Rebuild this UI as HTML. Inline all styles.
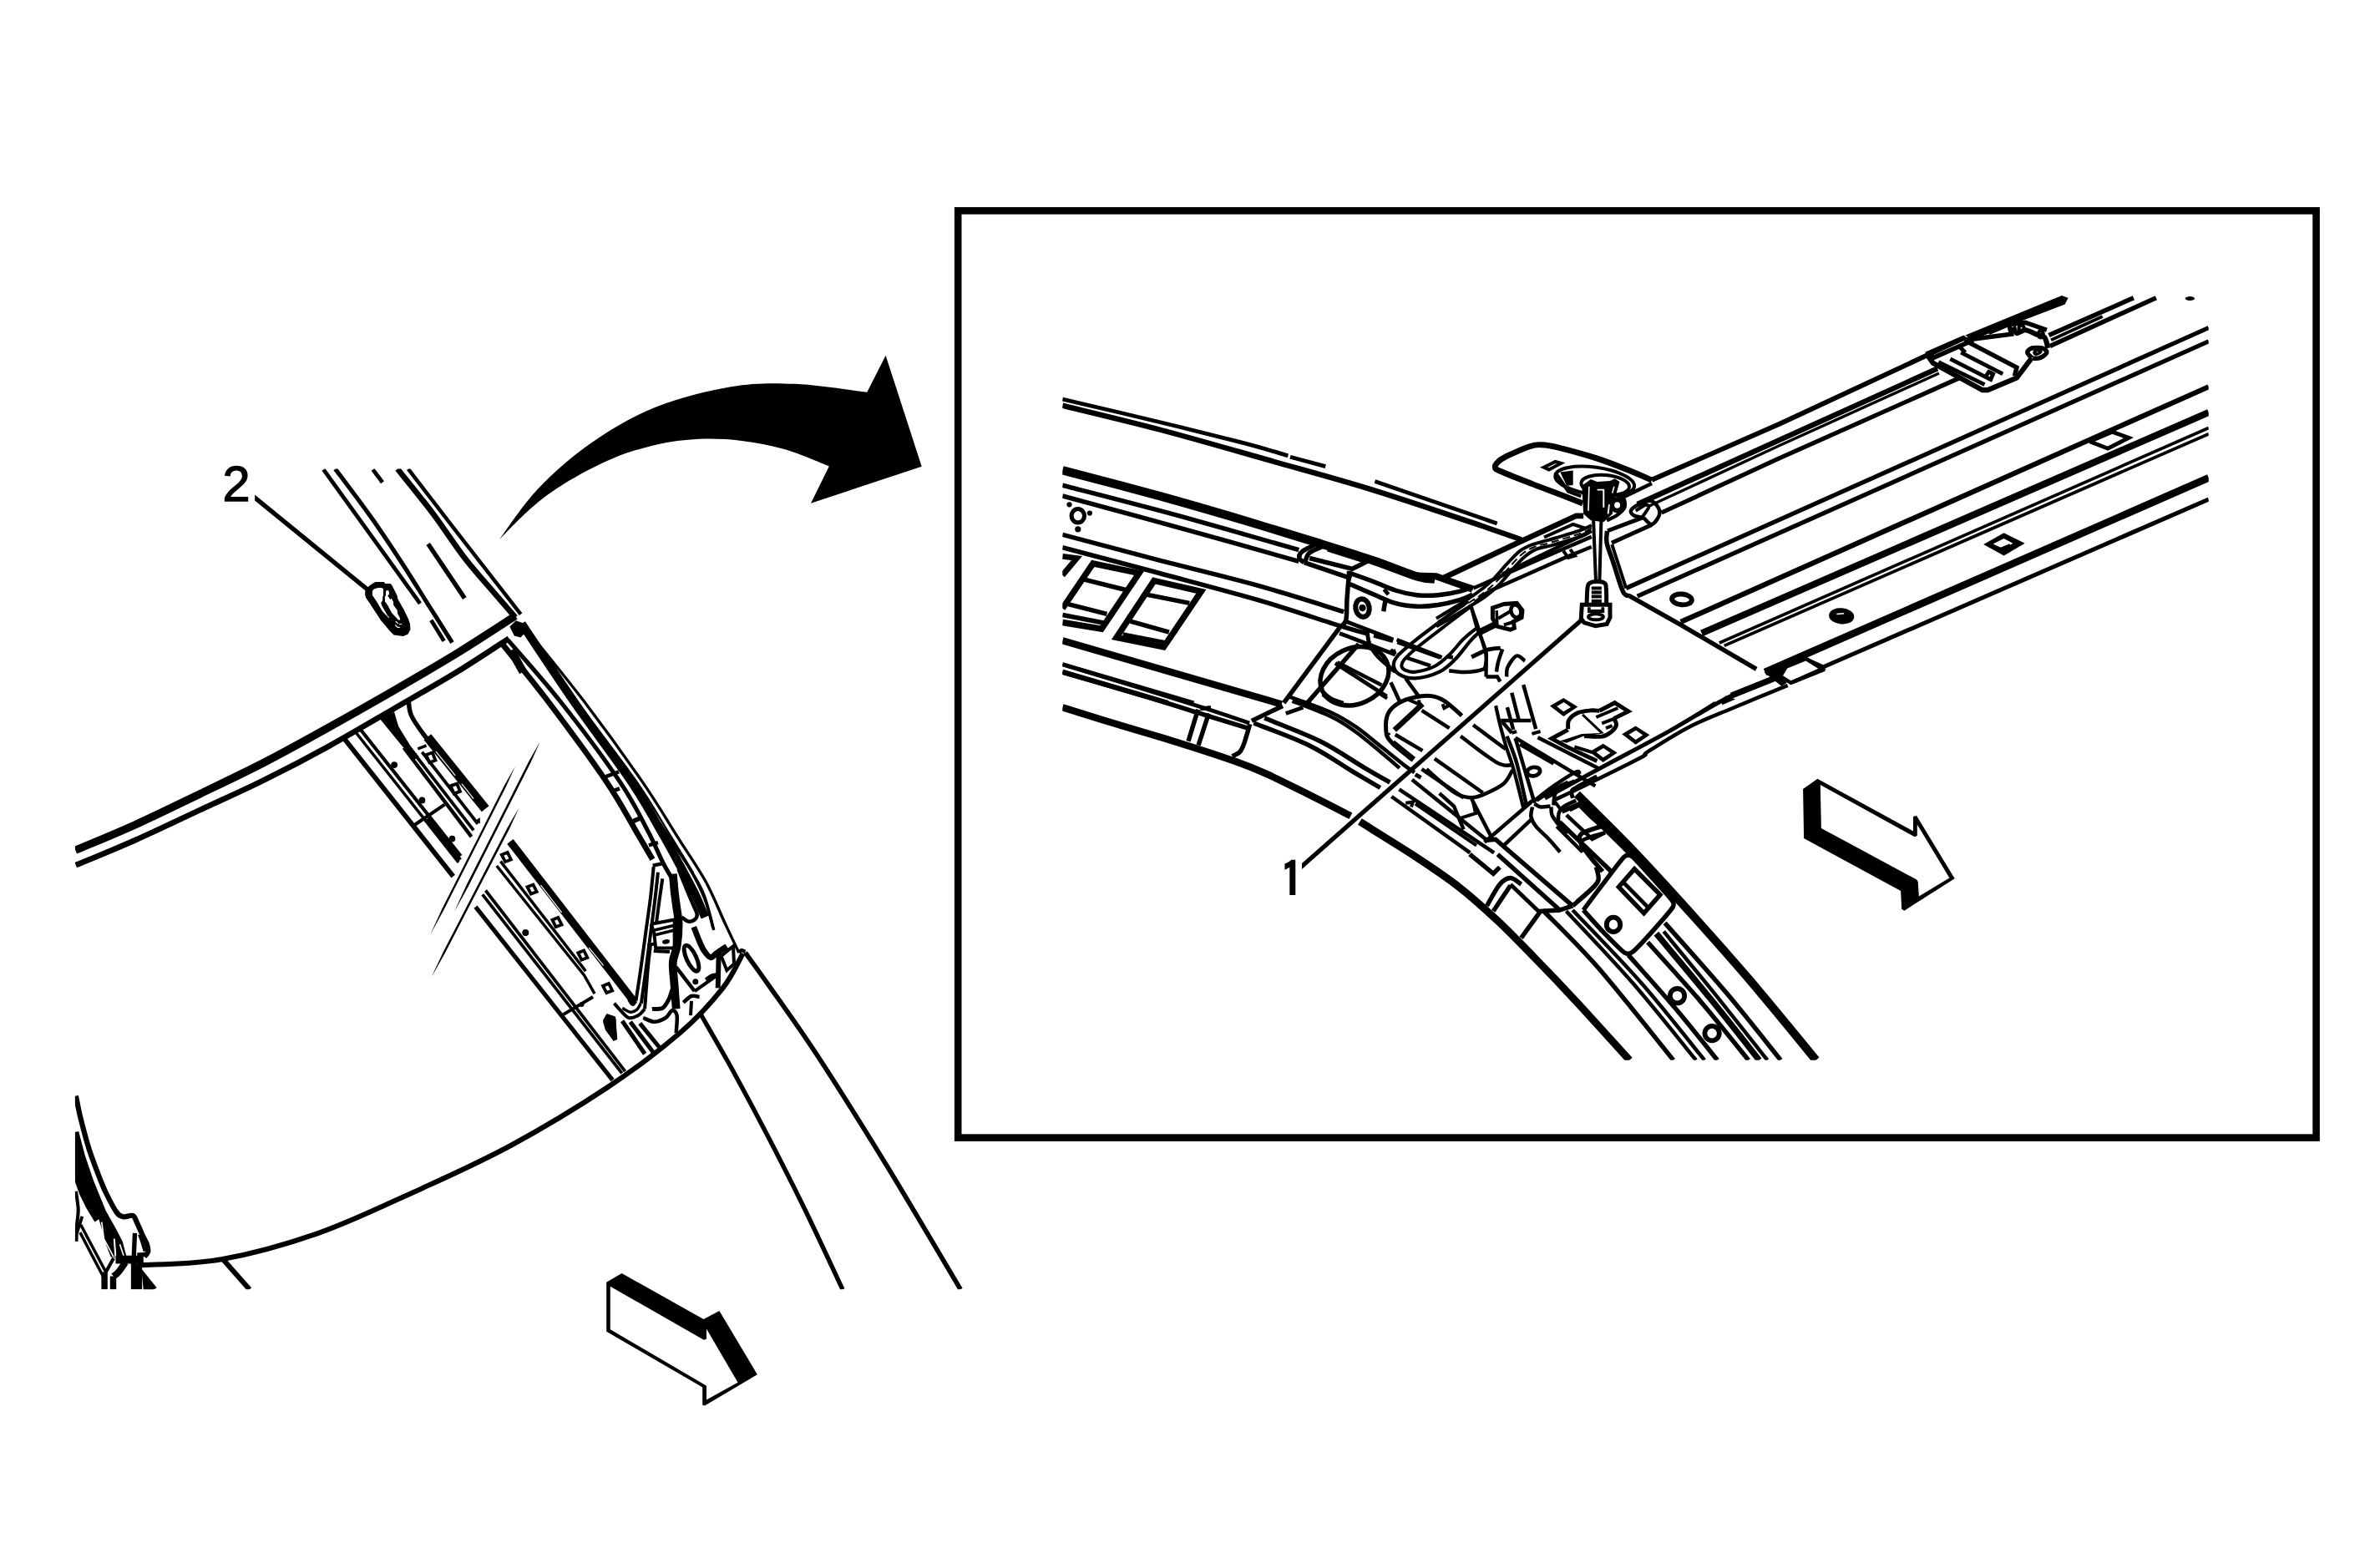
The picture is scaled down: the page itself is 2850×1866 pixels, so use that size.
<!DOCTYPE html>
<html><head><meta charset="utf-8"><title>Roof antenna</title>
<style>
html,body{margin:0;padding:0;background:#fff;}
body{width:2850px;height:1866px;overflow:hidden;font-family:"Liberation Sans",sans-serif;}
svg{display:block;position:absolute;left:0;top:0;}
svg text{font-family:"Liberation Sans",sans-serif;fill:#000;}
</style></head><body>
<svg xmlns="http://www.w3.org/2000/svg" width="2850" height="1866" viewBox="0 0 2850 1866">
<rect x="0" y="0" width="2850" height="1866" fill="#fff"/>
<defs><clipPath id="cl"><rect x="89.9" y="561.5" width="1100" height="982.8"/></clipPath><clipPath id="cr"><rect x="1272.3" y="260" width="1372.5" height="1009.7"/></clipPath></defs>
<!-- 00_frame.py -->
<rect x="1147.2" y="252.4" width="1626.4" height="1110.2" fill="none" stroke="#000" stroke-width="8.6"/>
<path d="M598.0 646.0 C605.7 635.9 625.8 604.7 644.2 585.4 C662.6 566.1 684.8 546.5 708.4 530.2 C731.9 513.9 757.6 498.7 785.4 487.5 C813.2 476.4 847.4 467.8 875.3 463.2 C903.1 458.5 925.1 458.7 952.3 459.8 C979.4 460.9 1023.9 468.2 1038.3 469.8 L1060.6 425.7 L1103.7 558.7 L971.0 602.8 L992.8 558.4 L992.8 558.4 C983.9 555.0 956.9 543.2 939.4 538.1 C922.0 533.0 905.2 529.9 888.1 527.9 C871.0 525.8 853.9 525.0 836.7 525.8 C819.6 526.6 802.5 528.9 785.4 532.7 C768.3 536.6 751.2 541.8 734.0 548.9 C716.9 556.0 698.5 565.6 682.7 575.1 C666.9 584.6 653.2 594.1 639.1 605.9 C624.9 617.7 604.8 639.3 598.0 646.0 Z" fill="#000"/>
<path d="M726.2 1535.7 L744.6 1525.1 L842.5 1580.0 L861.4 1570.1 L906.9 1646.3 L844.0 1683.6 L841.2 1682.7 L841.2 1661.5 L726.2 1594.7 Z" fill="#000"/>
<path d="M730.8 1540.8 L842.8 1604.7 L846.0 1603.7 L846.0 1591.5 L883.5 1655.7 L846.0 1676.5 L846.0 1659.8 L730.8 1592.3 Z" fill="#fff"/>
<path d="M2159.1 945.0 L2176.4 932.8 L2291.0 995.5 L2291.0 978.0 L2295.1 977.1 L2340.7 1052.2 L2280.4 1090.7 L2277.2 1088.8 L2276.1 1067.0 L2160.1 1004.1 Z" fill="#000"/>
<path d="M2179.8 939.9 L2292.6 1002.2 L2295.8 1000.9 L2295.8 987.4 L2334.4 1051.5 L2297.9 1073.5 L2296.7 1056.1 L2295.1 1053.5 L2180.9 991.9 Z" fill="#fff"/>
<text x="266.6" y="599.9" font-size="59.5" stroke="#000" stroke-width="1.3">2</text>
<text x="1532.9" y="1074.3" font-size="56" style="font-family:IPAGothic,'Liberation Sans',sans-serif" stroke="#000" stroke-width="2.4" stroke-linejoin="miter">1</text>
<g clip-path="url(#cl)">
<!-- 10_left_roof.py -->
<path d="M305.1 592.6 L305.1 599.4 L438.5 708.2 L441.8 704 Z" fill="#000"/>
<path d="M387.4 562.4 L503.0 722.8" fill="none" stroke="#000" stroke-width="4.81" stroke-linecap="butt" stroke-linejoin="miter"/>
<path d="M401.5 561.6 C408.6 571.1 430.6 600.1 443.9 618.8 C457.2 637.6 469.8 656.7 481.1 674.0 C492.5 691.4 501.9 706.9 511.9 722.8 C522.0 738.7 536.5 761.8 541.5 769.6" fill="none" stroke="#000" stroke-width="5.13" stroke-linecap="butt" stroke-linejoin="round"/>
<path d="M446.5 562.4 L458.0 577.8" fill="none" stroke="#000" stroke-width="4.81" stroke-linecap="butt" stroke-linejoin="miter"/>
<path d="M476.0 561.6 C483.1 570.5 504.9 597.1 518.4 615.0 C531.8 632.9 544.5 652.9 556.9 668.9 C569.3 685.0 582.8 699.5 592.8 711.3 C602.9 723.0 613.1 734.8 617.2 739.5" fill="none" stroke="#000" stroke-width="6.73" stroke-linecap="butt" stroke-linejoin="round"/>
<path d="M488.8 561.6 C496.3 571.3 520.3 602.7 533.8 620.1 C547.2 637.6 554.7 647.1 569.7 666.3 C584.7 685.6 614.6 724.1 623.6 735.7" fill="none" stroke="#000" stroke-width="4.49" stroke-linecap="butt" stroke-linejoin="round"/>
<path d="M512.7 651.5 L556.4 716.4" fill="none" stroke="#000" stroke-width="5.45" stroke-linecap="butt" stroke-linejoin="miter"/>
<path d="M516.3 742.8 L531.7 767.8" fill="none" stroke="#000" stroke-width="4.81" stroke-linecap="butt" stroke-linejoin="miter"/>
<path d="M90.3 1018.3 C102.4 1013.1 137.8 998.7 162.7 987.4 C187.6 976.2 214.0 963.1 239.7 950.7 C265.4 938.3 291.1 926.3 316.7 913.0 C342.4 899.7 368.1 885.4 393.8 871.1 C419.4 856.9 445.1 842.3 470.8 827.5 C496.5 812.6 523.4 797.0 547.8 782.1 C572.2 767.1 605.6 745.0 617.1 737.6" fill="none" stroke="#000" stroke-width="9.30" stroke-linecap="butt" stroke-linejoin="round"/>
<path d="M90.8 1036.2 C102.8 1031.2 137.9 1017.0 162.7 1005.9 C187.5 994.9 214.0 982.0 239.7 970.0 C265.4 958.0 291.1 946.8 316.7 934.0 C342.4 921.3 368.1 907.9 393.8 893.7 C419.4 879.6 445.1 864.2 470.8 849.3 C496.5 834.4 524.7 818.5 547.8 804.4 C570.9 790.3 599.2 771.2 609.4 764.6" fill="none" stroke="#000" stroke-width="6.73" stroke-linecap="butt" stroke-linejoin="round"/>
<path d="M646.7 888.3 L633.2 912.1 L558.2 1060.8 L544.0 1091.9 L560.6 1061.9 L635.5 913.3 Z" fill="#000"/>
<path d="M617.1 917.4 L603.8 941.1 L529.4 1088.6 L515.2 1119.4 L531.6 1089.6 L605.9 942.2 Z" fill="#000"/>
<path d="M621.5 967.4 L607.7 991.2 L531.1 1139.4 L516.5 1170.5 L533.4 1140.6 L610.1 992.4 Z" fill="#000"/>
<!-- 11_left_pillar_top.py -->
<path d="M610.4 750.4 L617.8 743.3 L626.4 746.2 L631.2 754.9 L623.5 763.5 L615.8 761.6 Z" fill="#000"/>
<path d="M601.4 771.2 C610.5 782.7 635.6 812.6 656.3 840.0 C677.0 867.4 708.2 909.7 725.6 935.3 C743.0 960.9 751.3 978.0 760.6 993.7 C769.9 1009.4 777.9 1023.4 781.4 1029.3" fill="none" stroke="#000" stroke-width="6.72" stroke-linecap="butt" stroke-linejoin="round"/>
<path d="M608.1 766.4 C618.6 778.7 648.6 811.8 670.9 840.0 C693.2 868.2 724.5 910.0 742.0 935.9 C759.5 961.8 767.3 979.2 776.0 995.6 C784.7 1012.0 788.7 1023.3 794.3 1034.1 C799.9 1044.8 807.1 1055.8 809.7 1060.1" fill="none" stroke="#000" stroke-width="5.15" stroke-linecap="butt" stroke-linejoin="round"/>
<path d="M624.7 747.0 C635.1 762.5 665.2 808.4 687.1 840.0 C709.0 871.6 738.7 910.4 756.4 936.8 C774.1 963.2 783.6 981.8 793.3 998.5 C803.0 1015.2 808.1 1025.1 814.5 1037.0 C820.9 1048.9 826.8 1059.5 831.8 1069.8 C836.8 1080.1 842.2 1093.8 844.3 1098.6" fill="none" stroke="#000" stroke-width="10.08" stroke-linecap="butt" stroke-linejoin="round"/>
<path d="M632.2 755.8 C643.4 769.8 676.6 810.0 699.4 840.0 C722.2 870.0 750.0 908.5 768.9 935.9 C787.8 963.3 799.9 984.2 812.6 1004.3 C825.3 1024.4 836.0 1039.3 845.3 1056.3 C854.6 1073.3 861.8 1092.2 868.4 1106.3 C875.0 1120.4 882.1 1135.2 884.8 1141.0" fill="none" stroke="#000" stroke-width="3.36" stroke-linecap="butt" stroke-linejoin="round"/>
<path d="M612.0 778.9 L626.4 804.9" fill="none" stroke="#000" stroke-width="9.78" stroke-linecap="butt" stroke-linejoin="miter"/>
<path d="M693.0 843.5 C704.6 859.0 744.2 910.2 762.5 936.5 C780.8 962.8 791.8 982.9 803.0 1001.0 C814.2 1019.1 825.5 1037.7 830.0 1045.0" fill="none" stroke="#000" stroke-width="2.30" stroke-linecap="butt" stroke-linejoin="round"/>
<path d="M725.6 930.1 L741.0 924.3" fill="none" stroke="#000" stroke-width="4.49" stroke-linecap="butt" stroke-linejoin="miter"/>
<path d="M733.3 947.4 L742.0 944.5" fill="none" stroke="#000" stroke-width="4.49" stroke-linecap="butt" stroke-linejoin="miter"/>
<path d="M758.3 983.1 L768.9 978.2" fill="none" stroke="#000" stroke-width="4.49" stroke-linecap="butt" stroke-linejoin="miter"/>
<!-- 12_left_farpillar.py -->
<path d="M411.7 884.0 L542.7 1049.6" fill="none" stroke="#000" stroke-width="5.77" stroke-linecap="butt" stroke-linejoin="miter"/>
<path d="M425.9 877.0 L549.1 1032.9" fill="none" stroke="#000" stroke-width="3.53" stroke-linecap="butt" stroke-linejoin="miter"/>
<path d="M432.3 874.5 L551.7 1025.2" fill="none" stroke="#000" stroke-width="4.17" stroke-linecap="butt" stroke-linejoin="miter"/>
<path d="M496.5 988.0 L532.4 963.6" fill="none" stroke="#000" stroke-width="4.17" stroke-linecap="butt" stroke-linejoin="miter"/>
<path d="M454.1 860.1 L472.1 852.7 L477.2 869.9 L491.3 893.0 L501.6 906.3 L496.5 909.7 L481.1 893.0 Z" fill="#000"/>
<path d="M483.6 895.5 L564.5 1002.1" fill="none" stroke="#000" stroke-width="4.49" stroke-linecap="butt" stroke-linejoin="miter"/>
<path d="M496.5 903.2 L567.1 994.4" fill="none" stroke="#000" stroke-width="3.85" stroke-linecap="butt" stroke-linejoin="miter"/>
<path d="M511.9 980.3 L550.4 1030.3" fill="none" stroke="#000" stroke-width="6.09" stroke-linecap="butt" stroke-linejoin="miter"/>
<path d="M505.4 900.7 L572.2 986.7" fill="none" stroke="#000" stroke-width="3.85" stroke-linecap="butt" stroke-linejoin="miter"/>
<path d="M489.3 840.3 C489.8 843.1 489.7 850.6 492.6 857.0 C495.5 863.4 501.8 872.2 506.7 878.8 C511.6 885.5 519.6 893.8 522.1 896.8" fill="none" stroke="#000" stroke-width="5.45" stroke-linecap="butt" stroke-linejoin="round"/>
<path d="M511.9 882.7 L581.2 968.7" fill="none" stroke="#000" stroke-width="11.23" stroke-linecap="butt" stroke-linejoin="miter"/>
<path d="M522.1 900.2 L545.2 928.9" fill="none" stroke="#fff" stroke-width="1.20" stroke-linecap="butt" stroke-linejoin="miter"/>
<path d="M552.9 938.7 L567.1 956.6" fill="none" stroke="#fff" stroke-width="1.20" stroke-linecap="butt" stroke-linejoin="miter"/>
<path d="M500.3 896.8 L510.6 893.0" fill="none" stroke="#000" stroke-width="3.53" stroke-linecap="butt" stroke-linejoin="miter"/>
<circle cx="472.1" cy="916.1" r="3.9" fill="#000"/>
<circle cx="505.4" cy="958.4" r="3.9" fill="#000"/>
<circle cx="541.4" cy="1004.6" r="3.9" fill="#000"/>
<circle cx="629.4" cy="1117.1" r="3.9" fill="#000"/>
<path d="M510.1 904.0 L517.8 901.4 L521.4 910.7 L514.2 913.2 Z" fill="none" stroke="#000" stroke-width="3.85" stroke-linecap="butt" stroke-linejoin="miter"/>
<path d="M539.6 941.2 L547.3 938.7 L550.9 947.9 L543.7 950.5 Z" fill="none" stroke="#000" stroke-width="3.85" stroke-linecap="butt" stroke-linejoin="miter"/>
<path d="M569.6 982.8 L574.8 979.0 L574.8 986.7 Z" fill="#000"/>
<path d="M569.5 1086.1 L733.6 1293.7" fill="none" stroke="#000" stroke-width="5.21" stroke-linecap="butt" stroke-linejoin="miter"/>
<path d="M577.8 1071.3 L744.8 1285.4" fill="none" stroke="#000" stroke-width="3.77" stroke-linecap="butt" stroke-linejoin="miter"/>
<path d="M581.5 1066.5 L748.6 1283.1" fill="none" stroke="#000" stroke-width="3.77" stroke-linecap="butt" stroke-linejoin="miter"/>
<path d="M594.8 1037.0 L699.5 1168.0 L712.0 1190.1" fill="none" stroke="#000" stroke-width="3.53" stroke-linecap="butt" stroke-linejoin="miter"/>
<path d="M599.4 1031.6 L701.4 1163.1" fill="none" stroke="#000" stroke-width="3.53" stroke-linecap="butt" stroke-linejoin="miter"/>
<path d="M610.9 1007.8 L759.2 1199.7" fill="none" stroke="#000" stroke-width="9.30" stroke-linecap="butt" stroke-linejoin="miter"/>
<path d="M647.5 1060.1 L672.6 1092.9" fill="none" stroke="#fff" stroke-width="1.20" stroke-linecap="butt" stroke-linejoin="miter"/>
<path d="M705.3 1135.2 L722.6 1156.4" fill="none" stroke="#fff" stroke-width="1.20" stroke-linecap="butt" stroke-linejoin="miter"/>
<path d="M674.5 1215.1 L710.1 1194.0" fill="none" stroke="#000" stroke-width="4.01" stroke-linecap="butt" stroke-linejoin="miter"/>
<circle cx="629.2" cy="1116.9" r="3.7" fill="#000"/>
<circle cx="696.6" cy="1203.0" r="2.9" fill="#000"/>
<path d="M600.7 1023.7 L607.7 1021.0 L611.9 1029.5 L605.0 1032.2 Z" fill="none" stroke="#000" stroke-width="3.77" stroke-linecap="butt" stroke-linejoin="miter"/>
<path d="M631.5 1062.2 L638.5 1059.6 L642.7 1068.0 L635.8 1070.7 Z" fill="none" stroke="#000" stroke-width="3.77" stroke-linecap="butt" stroke-linejoin="miter"/>
<path d="M661.4 1101.7 L668.3 1099.0 L672.6 1107.5 L665.6 1110.2 Z" fill="none" stroke="#000" stroke-width="3.77" stroke-linecap="butt" stroke-linejoin="miter"/>
<path d="M692.2 1141.2 L699.1 1138.5 L703.4 1147.0 L696.4 1149.7 Z" fill="none" stroke="#000" stroke-width="3.77" stroke-linecap="butt" stroke-linejoin="miter"/>
<path d="M722.0 1180.7 L729.0 1178.0 L733.2 1186.4 L726.3 1189.1 Z" fill="none" stroke="#000" stroke-width="3.77" stroke-linecap="butt" stroke-linejoin="miter"/>
<!-- 13_left_pillar_low.py -->
<path d="M789.4 985.0 C793.9 991.8 807.7 1011.7 816.4 1025.5 C825.1 1039.3 835.0 1053.1 841.4 1067.8 C847.9 1082.6 852.7 1106.3 854.9 1114.0" fill="none" stroke="#000" stroke-width="3.28" stroke-linecap="butt" stroke-linejoin="round"/>
<path d="M799.1 998.5 C803.2 1004.9 816.7 1024.2 824.1 1037.0 C831.5 1049.9 838.4 1063.0 843.4 1075.5 C848.3 1088.0 852.2 1106.0 854.0 1112.1" fill="none" stroke="#000" stroke-width="3.28" stroke-linecap="butt" stroke-linejoin="round"/>
<path d="M758.3 984.1 L769.2 979.3" fill="none" stroke="#000" stroke-width="4.49" stroke-linecap="butt" stroke-linejoin="miter"/>
<path d="M776.9 1012.4 L787.9 1009.1" fill="none" stroke="#000" stroke-width="4.49" stroke-linecap="butt" stroke-linejoin="miter"/>
<path d="M781.7 1036.6 L794.3 1034.1" fill="none" stroke="#000" stroke-width="4.49" stroke-linecap="butt" stroke-linejoin="miter"/>
<path d="M782.7 1038.0 C782.1 1044.2 780.5 1062.2 778.9 1075.5 C777.3 1088.9 775.0 1103.8 773.1 1117.9 C771.2 1132.0 769.2 1146.8 767.3 1160.3 C765.4 1173.7 762.5 1192.3 761.5 1198.8" fill="none" stroke="#000" stroke-width="4.01" stroke-linecap="butt" stroke-linejoin="round"/>
<path d="M787.9 1044.7 C787.3 1050.5 785.7 1066.2 784.1 1079.4 C782.5 1092.5 780.1 1109.6 778.3 1123.7 C776.5 1137.8 774.8 1151.1 773.1 1164.1 C771.3 1177.1 768.7 1195.4 767.9 1201.7" fill="none" stroke="#000" stroke-width="4.01" stroke-linecap="butt" stroke-linejoin="round"/>
<path d="M793.3 1052.4 C792.7 1056.9 790.7 1070.6 789.4 1079.4 C788.2 1088.2 786.6 1101.0 786.0 1105.4" fill="none" stroke="#000" stroke-width="4.01" stroke-linecap="butt" stroke-linejoin="round"/>
<path d="M778.9 1132.3 C778.3 1137.3 776.7 1149.5 775.6 1162.2 C774.5 1174.9 772.7 1200.7 772.1 1208.4" fill="none" stroke="#000" stroke-width="4.01" stroke-linecap="butt" stroke-linejoin="round"/>
<path d="M775.6 1132.3 L783.7 1130.4" fill="none" stroke="#000" stroke-width="4.01" stroke-linecap="butt" stroke-linejoin="miter"/>
<path d="M779.8 1106.7 L807.7 1101.5 L807.7 1135.6 L785.2 1135.6 L783.3 1117.9 L779.8 1106.7" fill="none" stroke="#000" stroke-width="4.01" stroke-linecap="butt" stroke-linejoin="miter"/>
<path d="M783.7 1114.0 L807.7 1108.3" fill="none" stroke="#000" stroke-width="3.53" stroke-linecap="butt" stroke-linejoin="miter"/>
<path d="M784.6 1119.8 L807.7 1114.0" fill="none" stroke="#000" stroke-width="3.53" stroke-linecap="butt" stroke-linejoin="miter"/>
<ellipse cx="797.5" cy="1127.9" rx="4.6" ry="2.7" transform="rotate(-10.0 797.5 1127.9)" fill="#000" stroke="#000" stroke-width="0.00"/>
<path d="M782.7 1139.1 L802.0 1140.0" fill="none" stroke="#000" stroke-width="4.01" stroke-linecap="butt" stroke-linejoin="miter"/>
<path d="M805.8 1046.6 C806.1 1050.2 807.1 1061.7 807.7 1067.8 C808.4 1073.9 808.9 1076.8 809.7 1083.2 C810.5 1089.7 812.4 1098.0 812.6 1106.3 C812.7 1114.7 811.8 1125.6 810.6 1133.3 C809.5 1141.0 806.3 1144.5 805.8 1152.6 C805.3 1160.6 807.1 1172.1 807.7 1181.4 C808.4 1190.7 809.3 1203.9 809.7 1208.4" fill="none" stroke="#000" stroke-width="9.78" stroke-linecap="butt" stroke-linejoin="round"/>
<path d="M816.4 1098.6 C817.7 1099.4 821.5 1103.0 824.1 1103.5 C826.7 1103.9 830.0 1103.0 831.8 1101.5 C833.6 1100.1 835.0 1097.8 834.7 1094.8 C834.4 1091.7 832.3 1089.0 829.9 1083.2 C827.5 1077.5 823.1 1067.2 820.3 1060.1 C817.4 1053.1 813.8 1044.1 812.6 1040.9" fill="none" stroke="#000" stroke-width="4.49" stroke-linecap="butt" stroke-linejoin="round"/>
<path d="M830.8 1110.2 C832.0 1113.1 835.5 1122.7 837.6 1127.5 C839.7 1132.3 841.1 1135.9 843.4 1139.1 C845.6 1142.3 848.5 1146.5 851.1 1146.8 C853.6 1147.1 855.6 1143.2 858.8 1141.0 C862.0 1138.8 868.4 1134.6 870.3 1133.3" fill="none" stroke="#000" stroke-width="6.90" stroke-linecap="butt" stroke-linejoin="round"/>
<ellipse cx="828.0" cy="1147.7" rx="5.8" ry="16.9" transform="rotate(-25.0 828.0 1147.7)" fill="none" stroke="#000" stroke-width="4.97"/>
<circle cx="832.8" cy="1175.7" r="3.5" fill="#000"/>
<path d="M809.7 1158.3 L831.8 1187.2" fill="none" stroke="#000" stroke-width="4.49" stroke-linecap="butt" stroke-linejoin="miter"/>
<path d="M845.3 1173.7 C846.6 1172.9 850.4 1169.9 853.0 1168.9 C855.6 1168.0 859.4 1168.1 860.7 1168.0" fill="none" stroke="#000" stroke-width="5.45" stroke-linecap="butt" stroke-linejoin="round"/>
<path d="M860.7 1141.0 L859.7 1183.4" fill="none" stroke="#000" stroke-width="5.93" stroke-linecap="butt" stroke-linejoin="miter"/>
<path d="M863.6 1144.9 L878.0 1133.3 L879.0 1154.5 L870.3 1162.2 L863.6 1144.9" fill="none" stroke="#000" stroke-width="4.01" stroke-linecap="butt" stroke-linejoin="miter"/>
<path d="M780.8 1208.4 C782.9 1208.2 789.9 1209.4 793.3 1207.4 C796.7 1205.5 799.1 1200.5 801.0 1196.8 C802.9 1193.2 804.2 1187.2 804.9 1185.3" fill="none" stroke="#000" stroke-width="4.97" stroke-linecap="butt" stroke-linejoin="round"/>
<path d="M770.2 1219.0 C772.4 1219.8 779.2 1223.8 783.7 1223.8 C788.2 1223.8 793.6 1221.2 797.2 1219.0 C800.7 1216.7 802.6 1210.8 804.9 1210.3 C807.1 1209.8 809.8 1211.6 810.6 1216.1 C811.4 1220.6 809.8 1233.7 809.7 1237.3" fill="none" stroke="#000" stroke-width="4.49" stroke-linecap="butt" stroke-linejoin="round"/>
<path d="M818.3 1200.7 C819.9 1199.4 824.7 1194.1 828.0 1193.0 C831.2 1191.9 836.0 1193.8 837.6 1194.0" fill="none" stroke="#000" stroke-width="4.49" stroke-linecap="butt" stroke-linejoin="round"/>
<path d="M828.0 1198.8 L827.0 1216.1" fill="none" stroke="#000" stroke-width="4.01" stroke-linecap="butt" stroke-linejoin="miter"/>
<path d="M831.8 1187.2 L858.8 1168.0" fill="none" stroke="#000" stroke-width="4.01" stroke-linecap="butt" stroke-linejoin="miter"/>
<path d="M735.5 1201.7 C736.8 1203.1 740.3 1207.4 743.2 1210.3 C746.1 1213.2 749.3 1218.0 752.9 1219.0 C756.4 1219.9 761.2 1217.9 764.4 1216.1 C767.6 1214.3 770.8 1209.7 772.1 1208.4" fill="none" stroke="#000" stroke-width="4.01" stroke-linecap="butt" stroke-linejoin="round"/>
<path d="M752.9 1196.8 C753.7 1197.9 756.2 1202.7 757.7 1203.0 C759.1 1203.3 760.9 1199.5 761.5 1198.8" fill="none" stroke="#000" stroke-width="4.01" stroke-linecap="butt" stroke-linejoin="round"/>
<path d="M745.2 1207.4 C746.8 1208.2 751.9 1211.9 754.8 1212.2 C757.7 1212.6 760.4 1211.1 762.5 1209.4 C764.6 1207.6 766.5 1202.9 767.3 1201.7" fill="none" stroke="#000" stroke-width="3.53" stroke-linecap="butt" stroke-linejoin="round"/>
<path d="M722.1 1223.8 L727.8 1218.0 L737.5 1219.9 L738.4 1245.0 L734.6 1246.9 L724.9 1233.4 Z" fill="#000"/>
<path d="M884.8 1141.0 C885.2 1140.5 886.4 1138.3 887.7 1138.1 C888.9 1138.0 891.7 1139.7 892.5 1140.0" fill="none" stroke="#000" stroke-width="4.49" stroke-linecap="butt" stroke-linejoin="round"/>
<!-- 14_left_bottom.py -->
<path d="M168.5 1515.3 C184.6 1514.1 230.1 1514.6 265.3 1508.3 C300.6 1502.0 341.6 1490.8 380.0 1477.4 C418.4 1464.0 457.0 1445.2 495.5 1427.7 C534.0 1410.2 572.6 1393.0 611.1 1372.2 C649.6 1351.4 692.7 1325.4 726.6 1302.9 C760.5 1280.4 791.3 1256.8 814.4 1237.0 C837.5 1217.2 852.7 1199.7 865.2 1183.9 C877.7 1168.1 885.5 1149.0 889.6 1142.0" fill="none" stroke="#000" stroke-width="6.10" stroke-linecap="butt" stroke-linejoin="round"/>
<path d="M892.5 1141.0 C897.1 1147.4 905.7 1158.9 920.0 1179.3 C934.3 1199.7 954.9 1227.7 978.2 1263.3 C1001.5 1298.9 1031.3 1346.2 1060.0 1393.0 C1088.7 1439.8 1135.2 1519.1 1150.2 1544.3" fill="none" stroke="#000" stroke-width="5.60" stroke-linecap="butt" stroke-linejoin="round"/>
<path d="M838.7 1214.0 C845.2 1225.5 864.5 1258.4 878.0 1283.0 C891.5 1307.6 905.5 1333.8 920.0 1361.8 C934.5 1389.8 950.2 1420.6 965.0 1451.0 C979.8 1481.4 1001.7 1528.8 1009.0 1544.3" fill="none" stroke="#000" stroke-width="5.35" stroke-linecap="butt" stroke-linejoin="round"/>
<path d="M267.0 1508.3 L298.8 1544.3" fill="none" stroke="#000" stroke-width="6.10" stroke-linecap="butt" stroke-linejoin="miter"/>
<path d="M745.1 1222.7 L772.1 1262.2" fill="none" stroke="#000" stroke-width="5.07" stroke-linecap="butt" stroke-linejoin="miter"/>
<path d="M754.8 1223.9 L783.7 1262.2" fill="none" stroke="#000" stroke-width="5.07" stroke-linecap="butt" stroke-linejoin="miter"/>
<path d="M766.3 1225.7 L791.3 1256.5" fill="none" stroke="#000" stroke-width="5.07" stroke-linecap="butt" stroke-linejoin="miter"/>
<path d="M722.0 1222.0 L726.6 1213.9 L737.0 1217.4 L739.3 1245.1 L734.7 1246.3 L725.4 1232.4 Z" fill="#000"/>
<path d="M90.9 1312.5 C91.9 1317.1 94.1 1329.4 96.7 1340.1 C99.4 1350.8 103.1 1365.4 106.8 1376.8 C110.4 1388.2 115.1 1399.9 118.4 1408.5 C121.8 1417.1 123.2 1421.1 126.8 1428.5 C130.4 1435.9 136.5 1447.9 140.1 1452.7 C143.7 1457.5 145.3 1456.8 148.5 1457.4 C151.7 1457.9 156.7 1454.7 159.3 1456.0 C162.0 1457.4 162.2 1460.9 164.3 1465.2 C166.4 1469.5 169.9 1477.7 171.8 1481.9 C173.8 1486.1 175.1 1487.3 176.0 1490.3 C176.9 1493.2 177.7 1496.9 177.2 1499.4 C176.6 1501.9 173.4 1504.3 172.7 1505.3" fill="none" stroke="#000" stroke-width="6.19" stroke-linecap="butt" stroke-linejoin="round"/>
<path d="M89.2 1355.9 L94.2 1355.1 L101.7 1383.5 L111.8 1413.5 L126.8 1450.2 L138.5 1471.1 L146.8 1486.9 L151.5 1505.3 L138.5 1506.9 L132.6 1505.3 L126.8 1490.3 L123.4 1476.9 L118.4 1460.2 L113.4 1463.6 L103.4 1446.9 L95.1 1430.2 L89.2 1413.5 Z" fill="#000"/>
<path d="M90.9 1426.8 C91.4 1430.5 93.5 1441.9 93.7 1448.5 C93.9 1455.2 92.5 1460.5 92.1 1466.9 C91.7 1473.3 91.5 1483.6 91.4 1486.9" fill="none" stroke="#000" stroke-width="4.10" stroke-linecap="butt" stroke-linejoin="round"/>
<path d="M98.4 1456.9 L92.1 1476.9" fill="none" stroke="#000" stroke-width="3.69" stroke-linecap="butt" stroke-linejoin="miter"/>
<path d="M118.4 1408.5 L126.8 1428.5 L123.4 1427.7 L117.6 1414.3 Z" fill="#000"/>
<path d="M121.8 1463.6 L124.3 1483.6 L136.0 1505.3" fill="none" stroke="#fff" stroke-width="1.67" stroke-linecap="butt" stroke-linejoin="miter"/>
<path d="M96.7 1466.9 L126.8 1523.6" fill="none" stroke="#000" stroke-width="3.48" stroke-linecap="butt" stroke-linejoin="miter"/>
<path d="M95.9 1476.1 L124.3 1530.3" fill="none" stroke="#000" stroke-width="3.48" stroke-linecap="butt" stroke-linejoin="miter"/>
<path d="M136.8 1483.6 L138.5 1506.9" fill="none" stroke="#fff" stroke-width="2.00" stroke-linecap="butt" stroke-linejoin="miter"/>
<path d="M143.5 1490.3 L148.5 1505.3" fill="none" stroke="#fff" stroke-width="1.67" stroke-linecap="butt" stroke-linejoin="miter"/>
<path d="M125.1 1523.6 L125.1 1544.5" fill="none" stroke="#000" stroke-width="7.44" stroke-linecap="butt" stroke-linejoin="miter"/>
<path d="M135.5 1528.6 L135.5 1544.5" fill="none" stroke="#000" stroke-width="7.44" stroke-linecap="butt" stroke-linejoin="miter"/>
<path d="M126.8 1523.6 L136.0 1506.9" fill="none" stroke="#000" stroke-width="4.10" stroke-linecap="butt" stroke-linejoin="miter"/>
<path d="M136.0 1528.6 C136.9 1527.8 139.4 1526.4 141.8 1523.6 C144.2 1520.9 148.8 1513.9 150.1 1512.0" fill="none" stroke="#000" stroke-width="7.86" stroke-linecap="butt" stroke-linejoin="round"/>
<path d="M163.5 1505.3 L163.5 1544.5" fill="none" stroke="#000" stroke-width="13.28" stroke-linecap="butt" stroke-linejoin="miter"/>
<path d="M164.3 1508.6 L164.3 1513.6" fill="none" stroke="#fff" stroke-width="1.20" stroke-linecap="butt" stroke-linejoin="miter"/>
<path d="M169.3 1519.5 L187.7 1542.3 L183.5 1545.0 L171.8 1545.0 Z" fill="#000"/>
<path d="M138.5 1508.6 L171.8 1508.6" fill="none" stroke="#000" stroke-width="9.94" stroke-linecap="butt" stroke-linejoin="miter"/>
<path d="M161.5 1476.9 L160.2 1505.3" fill="none" stroke="#000" stroke-width="5.35" stroke-linecap="butt" stroke-linejoin="miter"/>
<path d="M164.3 1502.8 L175.2 1501.9" fill="none" stroke="#000" stroke-width="4.52" stroke-linecap="butt" stroke-linejoin="miter"/>
<path d="M166.8 1478.6 C167.4 1480.1 169.1 1484.4 170.2 1487.8 C171.3 1491.1 172.9 1496.8 173.5 1498.6" fill="none" stroke="#000" stroke-width="3.69" stroke-linecap="butt" stroke-linejoin="round"/>
<!-- 15_left_antenna.py -->
<path d="M437.2 708.2 L439.5 704.1 L444.4 700.0 L449.5 696.9 L459.8 696.9 L461.3 699.0 L467.5 699.0 L469.1 700.5 L475.7 713.4 L476.2 717.0 L483.9 730.8 L489.1 741.6 L491.1 747.8 L491.4 753.9 L488.6 759.6 L482.9 761.9 L471.6 760.4 L467.0 756.0 L459.3 746.8 L456.2 743.2 L450.6 734.4 L447.0 729.3 L443.4 723.6 L438.2 715.9 L437.2 712.9 Z" fill="#000"/>
<path d="M445.9 708.2 L447.0 706.2 L449.0 704.9 L453.1 703.9 L456.7 703.9 L459.0 705.2 L459.0 713.6 L458.3 714.4 L458.0 719.5 L456.2 722.1 L457.2 725.2 L463.9 737.0 L466.5 739.8 L465.7 740.3 L457.8 731.9 L451.1 720.6 L447.0 714.4 L445.9 712.9 Z" fill="#fff"/>
<path d="M462.1 708.0 L463.4 707.0 L464.9 707.0 L466.0 709.5 L466.0 711.8 L464.2 713.4 L467.3 718.0 L468.8 716.7 L471.1 721.1 L471.1 724.4 L475.7 730.8 L476.2 734.9 L478.8 740.1 L479.1 742.9 L476.5 742.1 L473.7 739.1 L469.1 733.9 L463.9 724.2 L461.1 720.8 L460.8 714.4 L461.9 713.6 Z" fill="#fff"/>
<path d="M473.7 744.2 L476.8 746.8" fill="none" stroke="#fff" stroke-width="1.20" stroke-linecap="butt" stroke-linejoin="miter"/>
<path d="M473.2 748.3 L476.2 751.4 L478.8 751.4" fill="none" stroke="#fff" stroke-width="1.20" stroke-linecap="butt" stroke-linejoin="miter"/>
<path d="M477.8 747.5 L481.1 747.5" fill="none" stroke="#fff" stroke-width="1.20" stroke-linecap="butt" stroke-linejoin="miter"/>
</g>
<g clip-path="url(#cr)">
<!-- 20_right_header.py -->
<path d="M1272.3 478.0 C1291.7 482.6 1352.3 496.7 1388.4 505.5 C1424.4 514.2 1462.8 523.7 1488.5 530.4 C1514.2 537.1 1533.4 543.2 1542.4 545.8" fill="none" stroke="#000" stroke-width="4.81" stroke-linecap="butt" stroke-linejoin="round"/>
<path d="M1545.0 547.3 L1587.3 558.6" fill="none" stroke="#000" stroke-width="4.81" stroke-linecap="butt" stroke-linejoin="miter"/>
<path d="M1646.4 576.6 L1792.7 626.9" fill="none" stroke="#000" stroke-width="4.81" stroke-linecap="butt" stroke-linejoin="miter"/>
<path d="M1272.3 485.7 C1291.7 490.5 1347.6 503.7 1388.4 514.5 C1429.1 525.2 1474.8 538.5 1516.7 550.4 C1558.7 562.3 1597.2 572.4 1640.0 585.6 C1682.8 598.8 1743.2 619.3 1773.5 629.5 C1803.8 639.6 1813.7 643.6 1821.7 646.4" fill="none" stroke="#000" stroke-width="6.41" stroke-linecap="butt" stroke-linejoin="round"/>
<path d="M1272.3 563.2 C1291.7 568.4 1351.9 584.0 1388.4 594.0 C1424.8 604.1 1459.0 614.1 1491.1 623.6 C1523.2 633.1 1555.3 643.0 1580.9 651.0 C1606.6 659.0 1625.9 665.0 1645.1 671.6 C1664.4 678.1 1684.3 686.6 1696.5 690.3 C1708.7 694.0 1714.6 693.1 1718.3 693.7" fill="none" stroke="#000" stroke-width="10.26" stroke-linecap="butt" stroke-linejoin="round"/>
<path d="M1272.3 581.2 C1295.9 587.4 1366.9 605.5 1414.0 618.4 C1461.2 631.4 1531.7 652.0 1555.3 658.7" fill="none" stroke="#000" stroke-width="5.45" stroke-linecap="butt" stroke-linejoin="round"/>
<path d="M1272.3 594.0 C1295.9 600.5 1366.9 619.5 1414.0 632.6 C1461.2 645.6 1531.7 665.7 1555.3 672.3" fill="none" stroke="#000" stroke-width="5.45" stroke-linecap="butt" stroke-linejoin="round"/>
<path d="M1574.5 652.6 C1571.9 653.9 1562.2 658.1 1559.1 660.8 C1556.0 663.4 1555.3 666.4 1555.8 668.5 C1556.2 670.6 1560.7 672.8 1561.7 673.6" fill="none" stroke="#000" stroke-width="5.45" stroke-linecap="butt" stroke-linejoin="round"/>
<path d="M1584.0 654.4 C1581.4 655.7 1571.6 659.1 1568.1 662.1 C1564.6 665.1 1563.8 670.6 1563.0 672.3" fill="none" stroke="#000" stroke-width="5.45" stroke-linecap="butt" stroke-linejoin="round"/>
<path d="M1561.7 673.6 L1618.2 692.9" fill="none" stroke="#000" stroke-width="5.45" stroke-linecap="butt" stroke-linejoin="miter"/>
<path d="M1568.1 668.5 L1619.4 681.3 L1634.8 673.6 L1631.0 668.5" fill="none" stroke="#000" stroke-width="5.45" stroke-linecap="butt" stroke-linejoin="miter"/>
<path d="M1589.9 658.2 L1631.0 671.1" fill="none" stroke="#000" stroke-width="4.81" stroke-linecap="butt" stroke-linejoin="miter"/>
<path d="M1616.9 686.5 C1621.6 688.2 1636.1 693.3 1645.1 696.7 C1654.1 700.2 1662.2 704.4 1670.8 707.0 C1679.3 709.7 1687.9 711.7 1696.5 712.7 C1705.0 713.6 1713.6 713.4 1722.1 712.7 C1730.7 711.9 1741.0 709.9 1747.8 708.3 C1754.7 706.7 1760.6 704.0 1763.2 703.2" fill="none" stroke="#000" stroke-width="5.45" stroke-linecap="butt" stroke-linejoin="round"/>
<path d="M1615.6 699.3 C1620.5 701.4 1635.9 708.3 1645.1 712.1 C1654.3 716.0 1662.2 720.1 1670.8 722.4 C1679.3 724.8 1687.9 725.9 1696.5 726.3 C1705.0 726.6 1713.6 725.8 1722.1 724.5 C1730.7 723.2 1741.0 720.6 1747.8 718.6 C1754.7 716.5 1760.6 713.2 1763.2 712.1" fill="none" stroke="#000" stroke-width="5.45" stroke-linecap="butt" stroke-linejoin="round"/>
<path d="M1693.9 689.6 L1719.6 690.3 L1763.2 705.7" fill="none" stroke="#000" stroke-width="8.02" stroke-linecap="butt" stroke-linejoin="miter"/>
<path d="M1272.3 640.3 C1291.7 645.4 1349.3 660.9 1388.4 671.1 C1427.4 681.2 1469.7 691.1 1506.5 701.4 C1543.3 711.6 1592.0 727.5 1609.2 732.7" fill="none" stroke="#000" stroke-width="5.45" stroke-linecap="butt" stroke-linejoin="round"/>
<path d="M1272.3 655.7 C1291.7 660.8 1349.3 676.0 1388.4 686.5 C1427.4 697.0 1470.5 708.1 1506.5 718.6 C1542.4 729.0 1582.2 742.7 1604.0 749.4 C1625.9 756.1 1631.8 757.3 1637.4 758.9" fill="none" stroke="#000" stroke-width="5.45" stroke-linecap="butt" stroke-linejoin="round"/>
<path d="M1645.1 760.9 L1668.2 767.3" fill="none" stroke="#000" stroke-width="5.45" stroke-linecap="butt" stroke-linejoin="miter"/>
<path d="M1673.4 768.6 L1724.7 787.1" fill="none" stroke="#000" stroke-width="5.45" stroke-linecap="butt" stroke-linejoin="miter"/>
<path d="M1272.3 728.8 L1308.8 674.9 L1364.0 686.5 L1319.1 753.2 L1272.3 745.5" fill="none" stroke="#000" stroke-width="7.38" stroke-linecap="butt" stroke-linejoin="miter"/>
<path d="M1298.5 694.2 L1349.9 707.0" fill="none" stroke="#000" stroke-width="5.45" stroke-linecap="butt" stroke-linejoin="miter"/>
<path d="M1279.3 723.7 L1325.5 735.3" fill="none" stroke="#000" stroke-width="5.45" stroke-linecap="butt" stroke-linejoin="miter"/>
<path d="M1272.3 736.5 L1321.6 746.0" fill="none" stroke="#000" stroke-width="5.45" stroke-linecap="butt" stroke-linejoin="miter"/>
<path d="M1382.0 695.5 L1438.4 708.3 L1393.5 775.0 L1337.0 763.5 Z" fill="none" stroke="#000" stroke-width="7.38" stroke-linecap="butt" stroke-linejoin="miter"/>
<path d="M1373.0 712.1 L1424.3 722.4" fill="none" stroke="#000" stroke-width="5.45" stroke-linecap="butt" stroke-linejoin="miter"/>
<path d="M1353.7 744.2 L1399.9 757.1" fill="none" stroke="#000" stroke-width="5.45" stroke-linecap="butt" stroke-linejoin="miter"/>
<path d="M1344.7 759.6 L1394.8 769.4" fill="none" stroke="#000" stroke-width="4.81" stroke-linecap="butt" stroke-linejoin="miter"/>
<path d="M1272.3 666.4 L1289.5 668.5 L1272.3 689.0" fill="none" stroke="#000" stroke-width="6.73" stroke-linecap="butt" stroke-linejoin="miter"/>
<ellipse cx="1290.8" cy="617.7" rx="7.7" ry="8.2" transform="rotate(0.0 1290.8 617.7)" fill="none" stroke="#000" stroke-width="5.13"/>
<circle cx="1280.5" cy="604.3" r="3.1" fill="#000"/>
<circle cx="1304.9" cy="614.6" r="3.1" fill="#000"/>
<circle cx="1290.8" cy="633.8" r="3.6" fill="#000"/>
<path d="M1272.3 767.3 L1534.7 843.5" stroke="#000" stroke-width="8.4" fill="none"/>
<path d="M1272.3 795.6 L1429.4 841.8" fill="none" stroke="#000" stroke-width="4.81" stroke-linecap="butt" stroke-linejoin="miter"/>
<path d="M1272.3 804.6 L1398.6 841.8" fill="none" stroke="#000" stroke-width="6.09" stroke-linecap="butt" stroke-linejoin="miter"/>
<path d="M1615.6 683.9 C1615.2 689.5 1613.7 707.4 1613.0 717.3 C1612.4 727.1 1613.2 737.2 1611.7 743.0 C1610.2 748.7 1605.3 750.4 1604.0 751.9" fill="none" stroke="#000" stroke-width="5.45" stroke-linecap="butt" stroke-linejoin="round"/>
<path d="M1604.0 751.9 L1537.3 841.8" fill="none" stroke="#000" stroke-width="5.45" stroke-linecap="butt" stroke-linejoin="miter"/>
<path d="M1627.1 771.2 L1565.5 841.8" fill="none" stroke="#000" stroke-width="5.45" stroke-linecap="butt" stroke-linejoin="miter"/>
<path d="M1604.0 758.4 L1670.8 784.0" fill="none" stroke="#000" stroke-width="4.81" stroke-linecap="butt" stroke-linejoin="miter"/>
<path d="M1611.7 744.2 L1668.2 766.1" fill="none" stroke="#000" stroke-width="4.81" stroke-linecap="butt" stroke-linejoin="miter"/>
<ellipse cx="1631.5" cy="728.1" rx="8.2" ry="10.8" transform="rotate(-10.0 1631.5 728.1)" fill="none" stroke="#000" stroke-width="6.09"/>
<circle cx="1631.5" cy="728.1" r="4.1" fill="#000"/>
<path d="M1657.4 705.7 L1662.6 712.1" fill="none" stroke="#000" stroke-width="4.81" stroke-linecap="butt" stroke-linejoin="miter"/>
<path d="M1659.5 716.0 L1656.7 732.2" fill="none" stroke="#000" stroke-width="5.45" stroke-linecap="butt" stroke-linejoin="miter"/>
<ellipse cx="1622.0" cy="809.7" rx="42.4" ry="33.4" transform="rotate(-25.0 1622.0 809.7)" fill="none" stroke="#000" stroke-width="5.45"/>
<path d="M1598.9 794.3 L1660.5 834.1" fill="none" stroke="#000" stroke-width="4.81" stroke-linecap="butt" stroke-linejoin="miter"/>
<path d="M1637.4 757.1 C1637.8 759.4 1637.8 766.3 1640.0 771.2 C1642.1 776.1 1645.1 781.0 1650.2 786.6 C1655.4 792.2 1667.4 801.6 1670.8 804.6" fill="none" stroke="#000" stroke-width="4.81" stroke-linecap="butt" stroke-linejoin="round"/>
<!-- 21_right_center.py -->
<path d="M1895.2 603.0 C1891.7 601.6 1884.0 598.2 1874.0 594.4 C1864.1 590.5 1848.4 584.9 1835.5 579.9 C1822.7 574.9 1804.6 567.9 1797.0 564.5 C1789.5 561.1 1790.8 561.6 1790.3 559.7 C1789.8 557.8 1791.7 555.2 1794.1 553.0 C1796.5 550.7 1798.5 549.3 1804.7 546.2 C1811.0 543.2 1824.9 536.9 1831.7 534.7 C1838.4 532.4 1839.7 532.6 1845.2 532.7 C1850.6 532.9 1853.2 532.9 1864.4 535.6 C1875.6 538.4 1898.1 544.4 1912.6 549.1 C1927.0 553.8 1940.2 559.2 1951.1 563.5 C1962.0 567.9 1973.5 573.2 1978.0 575.1" fill="none" stroke="#000" stroke-width="6.90" stroke-linecap="butt" stroke-linejoin="round"/>
<path d="M1848.6 559.7 L1862.5 553.0 L1869.2 554.9 L1854.8 562.6 Z" fill="none" stroke="#000" stroke-width="4.01" stroke-linecap="butt" stroke-linejoin="miter"/>
<ellipse cx="1909.7" cy="576.1" rx="47.8" ry="16.4" transform="rotate(8.0 1909.7 576.1)" fill="none" stroke="#000" stroke-width="4.01"/>
<ellipse cx="1922.2" cy="580.9" rx="28.9" ry="11.9" transform="rotate(5.0 1922.2 580.9)" fill="none" stroke="#000" stroke-width="4.01"/>
<path d="M1862.5 565.5 L1877.9 588.6 L1893.3 594.4" fill="none" stroke="#000" stroke-width="4.01" stroke-linecap="butt" stroke-linejoin="miter"/>
<path d="M1868.3 565.5 L1883.7 563.5 L1883.7 580.9 L1876.0 581.8 Z" fill="#000"/>
<path d="M1894.3 581.8 L1904.9 574.1 L1912.6 577.0 L1928.0 576.1 L1933.7 573.2 L1939.5 577.0 L1935.7 590.5 L1930.8 615.5 L1920.3 625.2 L1904.9 623.2 L1896.2 615.5 Z" fill="#000"/>
<path d="M1912.6 586.6 L1920.3 586.6 L1920.3 607.8" fill="none" stroke="#fff" stroke-width="1.93" stroke-linecap="butt" stroke-linejoin="miter"/>
<path d="M1902.9 582.8 L1902.0 611.7" fill="none" stroke="#fff" stroke-width="1.54" stroke-linecap="butt" stroke-linejoin="miter"/>
<path d="M1927.0 604.0 L1925.6 615.5" fill="none" stroke="#fff" stroke-width="1.93" stroke-linecap="butt" stroke-linejoin="miter"/>
<path d="M1932.8 582.8 L1930.8 590.5" fill="none" stroke="#fff" stroke-width="1.54" stroke-linecap="butt" stroke-linejoin="miter"/>
<ellipse cx="1936.6" cy="604.9" rx="6.2" ry="6.5" transform="rotate(0.0 1936.6 604.9)" fill="#fff" stroke="#000" stroke-width="5.45"/>
<path d="M1931.8 592.4 C1933.7 593.1 1941.1 593.7 1943.4 596.3 C1945.6 598.8 1946.6 604.3 1945.3 607.8 C1944.0 611.4 1939.2 614.9 1935.7 617.5 C1932.1 620.0 1926.0 622.3 1924.1 623.2" fill="none" stroke="#000" stroke-width="4.49" stroke-linecap="butt" stroke-linejoin="round"/>
<path d="M1908.1 623.2 L1911.0 696.4" fill="none" stroke="#000" stroke-width="4.01" stroke-linecap="butt" stroke-linejoin="miter"/>
<path d="M1917.4 623.2 L1915.4 696.4" fill="none" stroke="#000" stroke-width="4.01" stroke-linecap="butt" stroke-linejoin="miter"/>
<path d="M1900.0 724.3 C1900.2 721.0 1900.4 708.4 1901.0 704.1 C1901.6 699.8 1902.0 699.6 1903.9 698.3 C1905.8 697.0 1909.7 696.4 1912.6 696.4 C1915.4 696.4 1919.4 697.0 1921.2 698.3 C1923.0 699.6 1922.9 699.8 1923.3 704.1 C1923.8 708.4 1923.7 721.0 1923.7 724.3" fill="none" stroke="#000" stroke-width="4.97" stroke-linecap="butt" stroke-linejoin="round"/>
<path d="M1905.8 704.5 L1917.9 704.5" fill="none" stroke="#000" stroke-width="4.01" stroke-linecap="butt" stroke-linejoin="miter"/>
<path d="M1905.8 709.5 L1917.9 709.5" fill="none" stroke="#000" stroke-width="4.01" stroke-linecap="butt" stroke-linejoin="miter"/>
<path d="M1905.8 714.5 L1917.9 714.5" fill="none" stroke="#000" stroke-width="4.01" stroke-linecap="butt" stroke-linejoin="miter"/>
<path d="M1905.8 719.9 L1917.9 719.9" fill="none" stroke="#000" stroke-width="4.01" stroke-linecap="butt" stroke-linejoin="miter"/>
<path d="M1894.3 724.3 L1928.0 724.3 L1928.0 739.7 L1924.1 747.4 L1910.6 749.7 L1897.2 745.9 L1893.3 740.7 Z" fill="none" stroke="#000" stroke-width="4.97" stroke-linecap="butt" stroke-linejoin="miter"/>
<ellipse cx="1911.0" cy="738.8" rx="8.9" ry="3.5" transform="rotate(0.0 1911.0 738.8)" fill="none" stroke="#000" stroke-width="4.01"/>
<path d="M1902.9 727.2 L1902.9 732.0 L1919.3 732.0 L1919.3 727.2" fill="none" stroke="#000" stroke-width="3.77" stroke-linecap="butt" stroke-linejoin="miter"/>
<path d="M1559 1033.9 L1559 1040.9 L1896.2 744 L1892.8 740 Z" fill="#000"/>
<path d="M1728.7 692.0 L1822.1 647.9 L1887.5 617.8 L1896.2 617.8" fill="none" stroke="#000" stroke-width="6.65" stroke-linecap="butt" stroke-linejoin="miter"/>
<path d="M1720.0 689.7 L1764.3 704.5" fill="none" stroke="#000" stroke-width="5.93" stroke-linecap="butt" stroke-linejoin="miter"/>
<path d="M1798.9 687.7 L1866.3 655.0 L1905.8 635.8" fill="none" stroke="#000" stroke-width="4.49" stroke-linecap="butt" stroke-linejoin="miter"/>
<path d="M1783.5 708.0 L1874.0 667.9 L1905.8 655.0" fill="none" stroke="#000" stroke-width="4.49" stroke-linecap="butt" stroke-linejoin="miter"/>
<path d="M1764.3 704.5 L1835.5 673.3 L1905.8 642.9" fill="none" stroke="#000" stroke-width="4.49" stroke-linecap="butt" stroke-linejoin="miter"/>
<path d="M1849.0 643.5 L1883.7 628.0 L1899.1 632.9" fill="none" stroke="#000" stroke-width="4.01" stroke-linecap="butt" stroke-linejoin="miter"/>
<path d="M1872.1 659.8 L1877.9 667.9 L1886.0 665.6 L1880.2 657.9" fill="none" stroke="#000" stroke-width="4.01" stroke-linecap="butt" stroke-linejoin="miter"/>
<path d="M1766.2 721.4 L1783.5 708.0" fill="none" stroke="#000" stroke-width="4.49" stroke-linecap="butt" stroke-linejoin="miter"/>
<path d="M1905.8 629.0 C1903.7 630.0 1901.8 631.8 1893.3 634.8 C1884.8 637.7 1864.4 643.8 1854.8 646.7 C1845.2 649.6 1841.3 649.9 1835.5 652.1 C1829.8 654.3 1825.3 656.0 1820.1 659.8 C1815.0 663.7 1809.9 669.8 1804.7 675.2 C1799.6 680.7 1794.5 687.4 1789.3 692.6 C1784.2 697.7 1779.7 701.5 1773.9 706.0 C1768.1 710.5 1763.6 713.7 1754.7 719.5 C1745.7 725.3 1725.8 737.2 1720.0 740.7" fill="none" stroke="#000" stroke-width="4.01" stroke-linecap="butt" stroke-linejoin="round"/>
<path d="M1905.8 635.8 C1903.7 636.9 1901.2 639.6 1893.3 642.5 C1885.4 645.4 1867.6 650.5 1858.6 653.1 C1849.7 655.6 1845.0 655.5 1839.4 657.9 C1833.8 660.3 1829.8 663.4 1824.9 667.5 C1820.1 671.7 1815.5 677.5 1810.5 682.9 C1805.5 688.4 1800.2 695.1 1795.1 700.3 C1790.0 705.4 1785.8 709.2 1779.7 713.7 C1773.6 718.2 1768.5 721.1 1758.5 727.2 C1748.6 733.3 1726.4 746.5 1720.0 750.3" fill="none" stroke="#000" stroke-width="4.01" stroke-linecap="butt" stroke-linejoin="round"/>
<path d="M1905.8 632.4 C1903.7 633.4 1901.5 635.7 1893.3 638.6 C1885.1 641.6 1866.0 647.2 1856.7 649.9 C1847.4 652.6 1843.2 652.7 1837.5 655.0 C1831.8 657.3 1827.5 659.7 1822.5 663.7 C1817.6 667.7 1812.7 673.6 1807.6 679.1 C1802.6 684.5 1797.3 691.3 1792.2 696.4 C1787.1 701.5 1782.7 705.4 1776.8 709.9 C1770.9 714.4 1766.1 717.4 1756.6 723.4 C1747.1 729.3 1726.1 741.8 1720.0 745.5" fill="none" stroke="#000" stroke-width="2" stroke-dasharray="9 5"/>
<path d="M1787.4 728.2 L1800.9 723.4 L1816.3 722.4 L1823.0 731.1 L1822.1 739.7 L1812.4 744.5 L1813.4 752.2 L1808.6 754.2 L1793.2 750.3 L1787.4 740.7 Z" fill="none" stroke="#000" stroke-width="4.97" stroke-linecap="butt" stroke-linejoin="miter"/>
<ellipse cx="1815.3" cy="732.0" rx="5.8" ry="7.7" transform="rotate(-20.0 1815.3 732.0)" fill="none" stroke="#000" stroke-width="4.49"/>
<path d="M1792.2 731.1 L1792.8 748.4" fill="none" stroke="#000" stroke-width="3.53" stroke-linecap="butt" stroke-linejoin="miter"/>
<path d="M1794.1 740.7 L1810.5 731.1" fill="none" stroke="#000" stroke-width="4.01" stroke-linecap="butt" stroke-linejoin="miter"/>
<path d="M1800.9 748.4 L1810.5 745.5" fill="none" stroke="#000" stroke-width="4.01" stroke-linecap="butt" stroke-linejoin="miter"/>
<path d="M1772.0 757.1 L1791.2 747.4" fill="none" stroke="#000" stroke-width="7.86" stroke-linecap="butt" stroke-linejoin="miter"/>
<circle cx="1773.9" cy="757.1" r="2.7" fill="#000"/>
<path d="M1761.4 724.3 C1762.5 728.7 1765.1 740.9 1768.1 750.3 C1771.2 759.8 1778.1 772.6 1779.7 781.1 C1781.3 789.6 1778.1 798.0 1777.8 801.3" fill="none" stroke="#000" stroke-width="4.01" stroke-linecap="butt" stroke-linejoin="round"/>
<path d="M1924.5 635.8 C1924.4 638.2 1922.9 643.9 1924.1 650.2 C1925.3 656.5 1928.6 663.6 1931.8 673.3 C1935.0 683.0 1940.2 701.6 1943.4 708.3 C1946.6 715.1 1949.8 712.8 1951.1 713.7" fill="none" stroke="#000" stroke-width="5.45" stroke-linecap="butt" stroke-linejoin="round"/>
<path d="M1951.1 713.7 L2012.7 748.4 L2103.2 801.3" fill="none" stroke="#000" stroke-width="5.45" stroke-linecap="butt" stroke-linejoin="miter"/>
<path d="M1930.3 652.1 L1947.2 704.5" fill="none" stroke="#000" stroke-width="4.01" stroke-linecap="butt" stroke-linejoin="miter"/>
<path d="M1968.4 620.3 C1966.5 619.9 1959.4 618.9 1956.8 617.5 C1954.3 616.0 1952.3 613.8 1953.0 611.7 C1953.6 609.6 1956.8 606.9 1960.7 604.9 C1964.5 603.0 1971.9 599.3 1976.1 599.7 C1980.3 600.2 1984.0 604.9 1985.7 607.8 C1987.5 610.8 1988.0 614.1 1986.7 617.5 C1985.4 620.8 1981.1 627.6 1978.0 628.0 C1975.0 628.5 1970.0 621.6 1968.4 620.3" fill="none" stroke="#000" stroke-width="4.49" stroke-linecap="butt" stroke-linejoin="round"/>
<path d="M1958.8 611.7 C1960.7 610.6 1967.8 605.6 1970.3 604.9 C1972.9 604.3 1974.8 605.4 1974.2 607.8 C1973.5 610.2 1967.8 617.5 1966.5 619.4" fill="none" stroke="#000" stroke-width="4.01" stroke-linecap="butt" stroke-linejoin="round"/>
<path d="M1925.1 635.8 L1968.4 619.4" fill="none" stroke="#000" stroke-width="4.97" stroke-linecap="butt" stroke-linejoin="miter"/>
<path d="M1929.9 650.2 L1978.0 628.6" fill="none" stroke="#000" stroke-width="4.97" stroke-linecap="butt" stroke-linejoin="miter"/>
<path d="M1944.3 595.3 L1978.0 578.9" fill="none" stroke="#000" stroke-width="4.49" stroke-linecap="butt" stroke-linejoin="miter"/>
<!-- 22_right_rails.py -->
<path d="M1947.2 704.5 L2644.8 392.6" fill="none" stroke="#000" stroke-width="5.22" stroke-linecap="butt" stroke-linejoin="miter"/>
<path d="M1960.7 714.1 L2644.8 408.8" fill="none" stroke="#000" stroke-width="5.22" stroke-linecap="butt" stroke-linejoin="miter"/>
<path d="M2012.7 744.9 L2644.8 463.2" fill="none" stroke="#000" stroke-width="6.10" stroke-linecap="butt" stroke-linejoin="miter"/>
<path d="M2037.7 758.4 L2644.8 494.0" fill="none" stroke="#000" stroke-width="8.10" stroke-linecap="butt" stroke-linejoin="miter"/>
<path d="M2058.9 770.0 L2644.8 512.5" fill="none" stroke="#000" stroke-width="3.73" stroke-linecap="butt" stroke-linejoin="miter"/>
<path d="M2064.7 773.4 L2644.8 519.7" fill="none" stroke="#000" stroke-width="3.73" stroke-linecap="butt" stroke-linejoin="miter"/>
<path d="M2113.5 805.0 L2644.8 572.3" fill="none" stroke="#000" stroke-width="8.60" stroke-linecap="butt" stroke-linejoin="miter"/>
<path d="M2183.0 799.0 L2644.8 598.0" fill="none" stroke="#000" stroke-width="5.10" stroke-linecap="butt" stroke-linejoin="miter"/>
<path d="M1978.0 574.7 L2130.0 508.2 L2353.4 404.2" fill="none" stroke="#000" stroke-width="5.85" stroke-linecap="butt" stroke-linejoin="miter"/>
<path d="M2353.4 401.6 L2468.9 354.1 L2476.6 356.7 L2472.7 364.4 L2361.1 407.3 Z" fill="#000"/>
<path d="M1960.7 604.0 L2130.0 527.4 L2320.0 441.4" fill="none" stroke="#000" stroke-width="6.35" stroke-linecap="butt" stroke-linejoin="miter"/>
<path d="M1975.0 606.0 L2130.0 534.0 L2322.0 447.0" fill="none" stroke="#000" stroke-width="3.48" stroke-linecap="butt" stroke-linejoin="miter"/>
<path d="M1989.6 614.0 L2130.0 549.2 L2345.7 453.0" fill="none" stroke="#000" stroke-width="5.22" stroke-linecap="butt" stroke-linejoin="miter"/>
<path d="M2453.5 401.6 L2554.9 356.7" fill="none" stroke="#000" stroke-width="5.45" stroke-linecap="butt" stroke-linejoin="miter"/>
<path d="M2454.8 414.5 L2581.9 356.7" fill="none" stroke="#000" stroke-width="5.45" stroke-linecap="butt" stroke-linejoin="miter"/>
<path d="M2456.1 407.3 L2517.7 379.0" fill="none" stroke="#000" stroke-width="3.85" stroke-linecap="butt" stroke-linejoin="miter"/>
<ellipse cx="2622.4" cy="357.5" rx="5.6" ry="2.6" transform="rotate(0.0 2622.4 357.5)" fill="#000" stroke="#000" stroke-width="0.00"/>
<path d="M2502.3 528.7 L2529.2 517.2 L2549.0 524.3 L2524.1 537.2 L2502.3 528.7" fill="none" stroke="#000" stroke-width="4.81" stroke-linecap="butt" stroke-linejoin="miter"/>
<path d="M2375.2 651.9 L2399.6 638.3 L2424.7 650.7 L2399.6 665.5 Z" fill="#000"/>
<path d="M2386.7 651.4 L2399.6 645.0 L2410.4 650.7 L2399.1 657.3 Z" fill="#fff"/>
<path d="M2394.4 658.4 L2407.3 653.2" fill="none" stroke="#000" stroke-width="4.17" stroke-linecap="butt" stroke-linejoin="miter"/>
<path d="M2309.7 422.7 L2350.8 404.7 L2358.5 409.3 L2314.9 428.6 Z" fill="none" stroke="#000" stroke-width="5.45" stroke-linecap="butt" stroke-linejoin="miter"/>
<path d="M2308.4 426.0 L2314.9 435.0 L2373.9 467.1 L2380.3 467.1 L2415.0 452.5 L2433.0 428.6" fill="none" stroke="#000" stroke-width="6.09" stroke-linecap="butt" stroke-linejoin="miter"/>
<path d="M2321.3 433.7 L2376.5 460.7" fill="none" stroke="#000" stroke-width="4.81" stroke-linecap="butt" stroke-linejoin="miter"/>
<path d="M2335.4 429.9 L2382.9 454.2" fill="none" stroke="#000" stroke-width="4.81" stroke-linecap="butt" stroke-linejoin="miter"/>
<path d="M2348.2 422.2 L2398.3 447.8" fill="none" stroke="#000" stroke-width="4.81" stroke-linecap="butt" stroke-linejoin="miter"/>
<path d="M2358.5 410.6 L2415.0 440.1 L2412.4 450.4" fill="none" stroke="#000" stroke-width="5.45" stroke-linecap="butt" stroke-linejoin="miter"/>
<path d="M2345.7 414.5 L2353.4 422.2" fill="none" stroke="#000" stroke-width="4.81" stroke-linecap="butt" stroke-linejoin="miter"/>
<path d="M2376.5 453.0 L2381.6 445.3 L2386.7 447.8 L2382.9 456.8" fill="none" stroke="#000" stroke-width="4.81" stroke-linecap="butt" stroke-linejoin="miter"/>
<path d="M2353.4 407.3 L2408.6 400.3 L2406.0 390.1" fill="none" stroke="#000" stroke-width="5.45" stroke-linecap="butt" stroke-linejoin="miter"/>
<path d="M2381.6 399.1 L2406.0 388.8" fill="none" stroke="#000" stroke-width="4.17" stroke-linecap="butt" stroke-linejoin="miter"/>
<path d="M2433.0 428.6 C2432.1 427.5 2427.8 424.1 2427.8 422.2 C2427.8 420.2 2430.0 417.9 2433.0 417.0 C2435.9 416.2 2442.8 416.2 2445.8 417.0 C2448.8 417.9 2451.4 420.2 2450.9 422.2 C2450.5 424.1 2446.0 427.4 2443.2 428.6 C2440.4 429.8 2435.7 429.2 2434.2 429.3" fill="none" stroke="#000" stroke-width="5.45" stroke-linecap="butt" stroke-linejoin="round"/>
<ellipse cx="2439.9" cy="421.6" rx="4.1" ry="2.1" transform="rotate(-20.0 2439.9 421.6)" fill="none" stroke="#000" stroke-width="3.53"/>
<path d="M2411.1 391.3 C2411.8 392.6 2412.6 398.4 2415.0 399.1 C2417.3 399.7 2421.4 395.0 2425.3 395.2 C2429.1 395.4 2434.2 398.8 2438.1 400.3 C2441.9 401.8 2446.0 401.4 2448.4 404.2 C2450.7 407.0 2451.6 414.9 2452.2 417.0" fill="none" stroke="#000" stroke-width="6.09" stroke-linecap="butt" stroke-linejoin="round"/>
<ellipse cx="2420.6" cy="393.4" rx="3.1" ry="4.1" transform="rotate(0.0 2420.6 393.4)" fill="none" stroke="#000" stroke-width="4.17"/>
<ellipse cx="2443.7" cy="400.3" rx="3.1" ry="4.1" transform="rotate(0.0 2443.7 400.3)" fill="none" stroke="#000" stroke-width="4.17"/>
<path d="M2406.0 388.8 L2425.3 386.2 L2450.9 395.2" fill="none" stroke="#000" stroke-width="5.45" stroke-linecap="butt" stroke-linejoin="miter"/>
<!-- 23_right_lower.py -->
<path d="M1272.3 847.3 C1283.1 850.6 1313.4 860.1 1337.0 867.3 C1360.6 874.5 1390.5 883.0 1414.0 890.4 C1437.6 897.8 1461.1 905.4 1478.2 911.5 C1495.3 917.5 1501.8 920.1 1516.7 926.9 C1531.7 933.6 1551.3 943.6 1568.1 952.0 C1584.9 960.4 1609.2 973.0 1617.4 977.2" fill="none" stroke="#000" stroke-width="8.35" stroke-linecap="butt" stroke-linejoin="round"/>
<path d="M1628.4 984.1 C1639.8 991.3 1676.6 1013.8 1696.5 1027.0 C1716.4 1040.1 1731.7 1050.3 1747.8 1062.9 C1764.0 1075.6 1778.5 1088.9 1793.4 1102.8 C1808.2 1116.7 1821.2 1130.2 1837.0 1146.5 C1852.9 1162.7 1869.3 1179.8 1888.4 1200.4 C1907.4 1220.9 1940.8 1258.2 1951.3 1269.7" fill="none" stroke="#000" stroke-width="8.85" stroke-linecap="butt" stroke-linejoin="round"/>
<path d="M1272.3 795.9 C1287.4 800.5 1334.8 814.6 1362.7 823.1 C1390.6 831.7 1417.5 840.1 1439.7 847.3 C1462.0 854.4 1486.8 862.9 1496.2 866.0" fill="none" stroke="#000" stroke-width="4.81" stroke-linecap="butt" stroke-linejoin="round"/>
<path d="M1272.3 805.2 C1287.4 809.5 1335.7 823.3 1362.7 831.3 C1389.7 839.4 1412.8 846.9 1434.6 853.7 C1456.4 860.4 1483.8 868.9 1493.6 871.9" fill="none" stroke="#000" stroke-width="5.45" stroke-linecap="butt" stroke-linejoin="round"/>
<path d="M1434.6 849.8 L1423.0 887.8" fill="none" stroke="#000" stroke-width="5.45" stroke-linecap="butt" stroke-linejoin="miter"/>
<path d="M1447.4 854.5 L1435.1 892.5" fill="none" stroke="#000" stroke-width="5.45" stroke-linecap="butt" stroke-linejoin="miter"/>
<path d="M1496.7 867.3 C1495.6 871.1 1491.8 884.8 1489.8 890.4 C1487.8 896.0 1487.0 898.1 1484.6 900.7 C1482.3 903.2 1477.2 904.9 1475.7 905.8" fill="none" stroke="#000" stroke-width="5.45" stroke-linecap="butt" stroke-linejoin="round"/>
<path d="M1437.2 848.8 L1450.0 847.3" fill="none" stroke="#000" stroke-width="4.81" stroke-linecap="butt" stroke-linejoin="miter"/>
<path d="M1498.8 863.4 L1536.0 845.5" fill="none" stroke="#000" stroke-width="5.45" stroke-linecap="butt" stroke-linejoin="miter"/>
<path d="M1539.8 854.5 L1560.4 847.3" fill="none" stroke="#000" stroke-width="4.81" stroke-linecap="butt" stroke-linejoin="miter"/>
<path d="M1501.3 866.0 C1512.5 870.5 1548.4 883.3 1568.1 893.0 C1587.8 902.6 1605.3 915.3 1619.4 923.8 C1633.6 932.2 1647.2 940.2 1652.8 943.5" fill="none" stroke="#000" stroke-width="5.45" stroke-linecap="butt" stroke-linejoin="round"/>
<path d="M1514.2 860.1 C1525.3 864.7 1561.2 878.1 1580.9 887.8 C1600.6 897.6 1618.4 910.4 1632.3 918.6 C1646.2 926.9 1659.0 934.0 1664.4 937.1" fill="none" stroke="#000" stroke-width="5.45" stroke-linecap="butt" stroke-linejoin="round"/>
<path d="M1542.4 833.9 C1551.0 837.1 1580.1 847.0 1593.8 853.2 C1607.5 859.4 1614.3 864.1 1624.6 871.1 C1634.8 878.2 1646.0 888.0 1655.4 895.5 C1664.8 903.0 1674.6 911.2 1681.1 916.1 C1687.5 921.0 1691.8 923.6 1693.9 925.1" fill="none" stroke="#000" stroke-width="4.49" stroke-linecap="butt" stroke-linejoin="round"/>
<path d="M1547.5 839.6 C1555.3 842.7 1581.4 852.3 1593.8 858.3 C1606.2 864.3 1612.2 868.5 1622.0 875.5 C1631.8 882.5 1643.8 892.8 1652.8 900.2 C1661.8 907.6 1672.1 916.6 1675.9 919.9" fill="none" stroke="#000" stroke-width="4.49" stroke-linecap="butt" stroke-linejoin="round"/>
<path d="M1847.3 1090.0 C1858.4 1101.5 1887.9 1129.4 1914.0 1159.3 C1940.1 1189.3 1988.9 1251.3 2003.9 1269.7" fill="none" stroke="#000" stroke-width="5.45" stroke-linecap="butt" stroke-linejoin="round"/>
<path d="M1875.5 1091.3 C1888.8 1105.6 1929.2 1147.5 1955.1 1177.3 C1981.0 1207.0 2018.2 1254.3 2030.9 1269.7" fill="none" stroke="#000" stroke-width="4.49" stroke-linecap="butt" stroke-linejoin="round"/>
<path d="M1883.2 1090.0 C1896.9 1104.5 1939.1 1147.3 1965.4 1177.3 C1991.7 1207.2 2028.5 1254.3 2041.1 1269.7" fill="none" stroke="#000" stroke-width="4.49" stroke-linecap="butt" stroke-linejoin="round"/>
<path d="M1950.0 1143.9 C1959.4 1154.6 1988.7 1187.1 2006.5 1208.1 C2024.2 1229.1 2048.2 1259.4 2056.5 1269.7" fill="none" stroke="#000" stroke-width="5.45" stroke-linecap="butt" stroke-linejoin="round"/>
<path d="M1973.1 1128.5 C1983.8 1140.5 2017.2 1176.9 2037.3 1200.4 C2057.4 1223.9 2084.3 1258.2 2093.8 1269.7" fill="none" stroke="#000" stroke-width="5.45" stroke-linecap="butt" stroke-linejoin="round"/>
<path d="M1983.4 1118.2 C1994.1 1131.1 2027.0 1170.0 2047.5 1195.3 C2068.1 1220.5 2096.8 1257.3 2106.6 1269.7" fill="none" stroke="#000" stroke-width="7.38" stroke-linecap="butt" stroke-linejoin="round"/>
<path d="M1992.3 1115.7 C2002.8 1128.5 2034.6 1167.0 2055.3 1192.7 C2075.9 1218.4 2106.2 1256.9 2116.4 1269.7" fill="none" stroke="#000" stroke-width="4.49" stroke-linecap="butt" stroke-linejoin="round"/>
<path d="M1993.6 1105.4 C2006.0 1119.5 2045.0 1162.7 2068.1 1190.1 C2091.2 1217.5 2121.6 1256.4 2132.3 1269.7" fill="none" stroke="#000" stroke-width="5.45" stroke-linecap="butt" stroke-linejoin="round"/>
<path d="M1888.4 951.3 C1899.1 962.0 1931.2 993.3 1952.6 1015.5 C1973.9 1037.8 1993.2 1058.8 2016.7 1084.9 C2040.3 1111.0 2067.4 1141.3 2093.8 1172.1 C2120.1 1203.0 2161.2 1253.4 2174.6 1269.7" fill="none" stroke="#000" stroke-width="9.94" stroke-linecap="butt" stroke-linejoin="round"/>
<ellipse cx="1932.0" cy="1107.4" rx="8.2" ry="8.7" transform="rotate(0.0 1932.0 1107.4)" fill="none" stroke="#000" stroke-width="5.77"/>
<ellipse cx="2008.5" cy="1192.7" rx="8.7" ry="8.7" transform="rotate(0.0 2008.5 1192.7)" fill="none" stroke="#000" stroke-width="5.77"/>
<ellipse cx="2050.1" cy="1237.6" rx="8.7" ry="8.7" transform="rotate(0.0 2050.1 1237.6)" fill="none" stroke="#000" stroke-width="5.77"/>
<path d="M1896.1 1090.0 C1898.4 1086.9 1914.3 1065.5 1919.2 1059.2 C1924.1 1052.8 1941.3 1029.6 1944.9 1026.3 C1948.4 1023.0 1951.5 1023.5 1955.1 1026.3 C1958.7 1029.1 1976.2 1049.0 1980.8 1054.0 C1985.4 1059.1 1999.1 1073.9 2001.3 1077.2 C2003.6 1080.4 2005.4 1082.5 2003.4 1086.1 C2001.3 1089.7 1985.6 1107.7 1980.8 1113.1 C1976.0 1118.5 1958.7 1137.3 1955.1 1140.1 C1951.5 1142.8 1948.4 1143.3 1944.9 1140.8 C1941.3 1138.4 1924.1 1120.7 1919.2 1115.7 C1914.3 1110.6 1898.4 1092.6 1896.1 1090.0" fill="none" stroke="#000" stroke-width="5.45" stroke-linecap="butt" stroke-linejoin="round"/>
<path d="M1938.4 1062.3 L1957.2 1040.7 L1988.0 1071.5 L1968.5 1093.8 Z" fill="none" stroke="#000" stroke-width="5.45" stroke-linecap="butt" stroke-linejoin="miter"/>
<path d="M1944.3 1057.1 L1973.6 1086.9" fill="none" stroke="#000" stroke-width="4.81" stroke-linecap="butt" stroke-linejoin="miter"/>
<path d="M1778.0 1006.5 L1790.8 1005.3 L1883.2 1084.9" fill="none" stroke="#000" stroke-width="5.45" stroke-linecap="butt" stroke-linejoin="miter"/>
<path d="M1793.4 1023.2 L1867.8 1090.0 L1883.2 1084.9" fill="none" stroke="#000" stroke-width="5.45" stroke-linecap="butt" stroke-linejoin="miter"/>
<path d="M1883.2 1084.9 C1886.7 1081.9 1898.6 1072.0 1903.8 1066.9 C1908.9 1061.7 1912.8 1058.8 1914.0 1054.0 C1915.3 1049.3 1911.9 1041.2 1911.5 1038.6" fill="none" stroke="#000" stroke-width="5.45" stroke-linecap="butt" stroke-linejoin="round"/>
<path d="M1888.4 1079.7 L1908.9 1061.7" fill="none" stroke="#000" stroke-width="4.81" stroke-linecap="butt" stroke-linejoin="miter"/>
<path d="M1780.5 1084.9 C1783.1 1080.6 1791.2 1064.7 1795.9 1059.2 C1800.7 1053.6 1804.5 1051.5 1808.8 1051.5 C1813.1 1051.5 1819.5 1057.9 1821.6 1059.2" fill="none" stroke="#000" stroke-width="5.45" stroke-linecap="butt" stroke-linejoin="round"/>
<path d="M1788.2 1091.3 L1808.8 1060.5" fill="none" stroke="#000" stroke-width="5.45" stroke-linecap="butt" stroke-linejoin="miter"/>
<path d="M1821.6 1123.4 L1844.7 1091.3 L1867.8 1090.0" fill="none" stroke="#000" stroke-width="5.45" stroke-linecap="butt" stroke-linejoin="miter"/>
<path d="M1808.8 1059.2 L1842.2 1091.3" fill="none" stroke="#000" stroke-width="4.81" stroke-linecap="butt" stroke-linejoin="miter"/>
<path d="M1760.0 1023.2 L1788.2 1046.3 L1795.9 1038.6" fill="none" stroke="#000" stroke-width="5.45" stroke-linecap="butt" stroke-linejoin="miter"/>
<path d="M1870.4 971.9 L1890.9 962.9 L1952.6 1023.2" fill="none" stroke="#000" stroke-width="5.45" stroke-linecap="butt" stroke-linejoin="miter"/>
<path d="M1867.8 984.7 L1929.4 1043.8" fill="none" stroke="#000" stroke-width="5.45" stroke-linecap="butt" stroke-linejoin="miter"/>
<path d="M1916.6 989.9 C1912.8 991.4 1897.4 995.4 1893.5 998.8 C1889.7 1002.3 1891.8 1005.9 1893.5 1010.4 C1895.2 1014.9 1899.5 1020.2 1903.8 1025.8 C1908.1 1031.4 1916.6 1040.8 1919.2 1043.8" fill="none" stroke="#000" stroke-width="5.45" stroke-linecap="butt" stroke-linejoin="round"/>
<!-- 24_right_core.py -->
<path d="M1690.9 909.7 C1686.6 906.0 1670.1 893.5 1664.9 887.5 C1659.7 881.6 1660.2 879.5 1659.7 874.0 C1659.3 868.6 1659.4 860.2 1662.1 854.8 C1664.7 849.4 1670.1 845.0 1675.5 841.7 C1681.0 838.4 1688.4 836.3 1694.8 835.0 C1701.2 833.6 1708.3 832.9 1714.0 833.6 C1719.8 834.3 1723.4 835.5 1729.4 839.4 C1735.5 843.3 1747.1 854.1 1750.6 857.1" fill="none" stroke="#000" stroke-width="4.97" stroke-linecap="butt" stroke-linejoin="round"/>
<path d="M1669.8 874.4 L1703.5 843.2" fill="none" stroke="#000" stroke-width="6.41" stroke-linecap="butt" stroke-linejoin="miter"/>
<path d="M1670.7 879.8 L1703.5 899.1" fill="none" stroke="#000" stroke-width="4.49" stroke-linecap="butt" stroke-linejoin="miter"/>
<path d="M1702.5 850.9 L1735.6 872.1" fill="none" stroke="#000" stroke-width="4.49" stroke-linecap="butt" stroke-linejoin="miter"/>
<path d="M1667.8 889.4 L1692.9 909.7" fill="none" stroke="#000" stroke-width="6.90" stroke-linecap="butt" stroke-linejoin="miter"/>
<path d="M1727.5 843.2 L1729.4 848.0 L1734.3 845.2" fill="none" stroke="#000" stroke-width="4.01" stroke-linecap="butt" stroke-linejoin="miter"/>
<path d="M1685.2 837.5 L1698.6 843.2 L1699.6 838.4" fill="none" stroke="#000" stroke-width="4.01" stroke-linecap="butt" stroke-linejoin="miter"/>
<circle cx="1663.6" cy="878.9" r="1.5" fill="#000"/>
<path d="M1665.5 817.2 L1677.5 843.2" fill="none" stroke="#000" stroke-width="4.49" stroke-linecap="butt" stroke-linejoin="miter"/>
<path d="M1683.2 812.4 L1698.6 833.6" fill="none" stroke="#000" stroke-width="4.49" stroke-linecap="butt" stroke-linejoin="miter"/>
<path d="M1650.5 829.8 L1661.1 836.5" fill="none" stroke="#000" stroke-width="4.01" stroke-linecap="butt" stroke-linejoin="miter"/>
<path d="M1601.4 793.2 L1654.4 820.5" fill="none" stroke="#000" stroke-width="4.49" stroke-linecap="butt" stroke-linejoin="miter"/>
<path d="M1584.6 830.7 C1586.3 832.0 1590.7 836.3 1594.7 838.4 C1598.6 840.5 1605.9 842.4 1608.1 843.2" fill="none" stroke="#000" stroke-width="6.90" stroke-linecap="butt" stroke-linejoin="round"/>
<path d="M1560.0 841.7 L1569.6 843.2" fill="none" stroke="#000" stroke-width="6.41" stroke-linecap="butt" stroke-linejoin="miter"/>
<path d="M1758.3 720.0 C1752.6 724.2 1734.9 736.7 1723.7 745.0 C1712.4 753.4 1699.3 763.3 1690.9 770.1 C1682.6 776.8 1677.3 781.0 1673.6 785.5 C1669.9 790.0 1668.5 793.3 1668.8 797.0 C1669.1 800.7 1671.2 805.0 1675.5 807.6 C1679.9 810.2 1686.8 812.9 1694.8 812.4 C1702.8 811.9 1715.6 808.6 1723.7 804.7 C1731.7 800.9 1736.8 795.4 1742.9 789.3 C1749.0 783.2 1755.4 773.6 1760.3 768.1 C1765.1 762.7 1769.9 758.5 1771.8 756.6" fill="none" stroke="#000" stroke-width="4.25" stroke-linecap="butt" stroke-linejoin="round"/>
<path d="M1762.2 725.8 C1756.4 730.1 1738.4 743.4 1727.5 751.8 C1716.6 760.1 1704.4 769.4 1696.7 775.8 C1689.0 782.3 1684.4 786.6 1681.3 790.3 C1678.3 794.0 1678.1 795.9 1678.4 798.0 C1678.7 800.1 1680.5 801.7 1683.2 802.8 C1686.0 803.9 1689.0 805.5 1694.8 804.7 C1700.6 803.9 1711.2 801.4 1717.9 798.0 C1724.6 794.6 1729.4 790.0 1735.2 784.5 C1741.0 779.1 1746.9 770.7 1752.6 765.3 C1758.2 759.8 1766.2 754.0 1768.9 751.8" fill="none" stroke="#000" stroke-width="4.01" stroke-linecap="butt" stroke-linejoin="round"/>
<path d="M1672.6 766.2 L1726.6 787.4" fill="none" stroke="#000" stroke-width="4.49" stroke-linecap="butt" stroke-linejoin="miter"/>
<path d="M1683.2 787.4 L1713.1 797.4" fill="none" stroke="#000" stroke-width="4.49" stroke-linecap="butt" stroke-linejoin="miter"/>
<path d="M1732.0 786.4 L1740.0 787.4" fill="none" stroke="#000" stroke-width="4.97" stroke-linecap="butt" stroke-linejoin="miter"/>
<path d="M1665.5 777.8 L1670.7 783.5 L1668.8 777.8" fill="none" stroke="#000" stroke-width="4.01" stroke-linecap="butt" stroke-linejoin="miter"/>
<path d="M1762.2 787.0 C1765.4 785.5 1775.7 779.9 1781.4 778.2 C1787.2 776.4 1794.3 776.5 1796.8 776.2" fill="none" stroke="#000" stroke-width="4.97" stroke-linecap="butt" stroke-linejoin="round"/>
<path d="M1735.2 803.2 C1738.1 803.5 1747.1 805.0 1752.6 805.1 C1758.0 805.2 1763.6 804.5 1768.0 803.8 C1772.3 803.1 1776.8 801.4 1778.5 800.9" fill="none" stroke="#000" stroke-width="4.49" stroke-linecap="butt" stroke-linejoin="round"/>
<path d="M1760.3 723.9 C1761.5 727.4 1765.4 737.3 1768.0 745.0 C1770.5 752.7 1773.7 763.3 1775.7 770.1 C1777.6 776.8 1778.9 778.7 1779.5 785.5 C1780.2 792.2 1779.5 806.3 1779.5 810.5" fill="none" stroke="#000" stroke-width="4.25" stroke-linecap="butt" stroke-linejoin="round"/>
<path d="M1779.5 810.5 L1793.0 810.5 L1796.5 816.3" fill="none" stroke="#000" stroke-width="4.49" stroke-linecap="butt" stroke-linejoin="miter"/>
<path d="M1799.2 777.4 C1798.3 780.0 1795.1 788.6 1794.0 793.2 C1792.8 797.7 1792.3 802.8 1792.0 804.7" fill="none" stroke="#000" stroke-width="4.49" stroke-linecap="butt" stroke-linejoin="round"/>
<path d="M1804.2 810.5 C1804.4 808.6 1803.5 803.1 1805.5 798.9 C1807.5 794.8 1812.7 786.7 1816.1 785.5 C1819.5 784.2 1824.4 790.6 1826.1 791.6" fill="none" stroke="#000" stroke-width="4.49" stroke-linecap="butt" stroke-linejoin="round"/>
<path d="M1791.1 845.2 C1792.0 849.3 1794.8 862.0 1796.8 870.2 C1798.9 878.4 1801.0 885.9 1803.6 894.3 C1806.1 902.6 1808.8 908.1 1812.2 920.3 C1815.7 932.5 1822.2 959.6 1824.2 967.4" fill="none" stroke="#000" stroke-width="4.25" stroke-linecap="butt" stroke-linejoin="round"/>
<path d="M1804.9 847.1 L1812.2 874.0" fill="none" stroke="#000" stroke-width="4.49" stroke-linecap="butt" stroke-linejoin="miter"/>
<path d="M1810.3 829.8 L1819.0 863.5" fill="none" stroke="#000" stroke-width="4.49" stroke-linecap="butt" stroke-linejoin="miter"/>
<path d="M1824.2 820.1 L1839.2 873.1" fill="none" stroke="#000" stroke-width="4.49" stroke-linecap="butt" stroke-linejoin="miter"/>
<path d="M1797.2 862.9 L1833.4 862.9" fill="none" stroke="#000" stroke-width="4.49" stroke-linecap="butt" stroke-linejoin="miter"/>
<path d="M1799.2 864.8 L1810.3 877.9" fill="none" stroke="#000" stroke-width="4.49" stroke-linecap="butt" stroke-linejoin="miter"/>
<path d="M1804.5 881.7 C1806.5 887.0 1812.2 899.7 1816.1 913.5 C1820.0 927.4 1826.0 956.4 1828.0 964.9" fill="none" stroke="#000" stroke-width="4.49" stroke-linecap="butt" stroke-linejoin="round"/>
<path d="M1814.6 884.1 L1837.3 960.7" fill="none" stroke="#000" stroke-width="4.49" stroke-linecap="butt" stroke-linejoin="miter"/>
<path d="M1810.3 877.9 L1816.1 876.0" fill="none" stroke="#000" stroke-width="4.01" stroke-linecap="butt" stroke-linejoin="miter"/>
<path d="M1834.4 878.9 L1844.6 876.0" fill="none" stroke="#000" stroke-width="4.01" stroke-linecap="butt" stroke-linejoin="miter"/>
<ellipse cx="1836.5" cy="924.1" rx="7.7" ry="5.2" transform="rotate(-10.0 1836.5 924.1)" fill="none" stroke="#000" stroke-width="4.73"/>
<path d="M1764.1 868.3 L1803.0 897.2" fill="none" stroke="#000" stroke-width="4.49" stroke-linecap="butt" stroke-linejoin="miter"/>
<path d="M1749.1 881.7 C1752.9 884.6 1764.8 893.9 1771.8 899.1 C1778.8 904.2 1786.3 909.7 1791.1 912.6 C1795.9 915.4 1797.6 915.8 1800.7 916.4 C1803.7 917.0 1807.9 916.4 1809.4 916.4" fill="none" stroke="#000" stroke-width="4.49" stroke-linecap="butt" stroke-linejoin="round"/>
<path d="M1811.3 922.2 C1809.5 924.9 1806.3 933.7 1800.7 938.5 C1795.1 943.4 1784.0 948.3 1777.6 951.1 C1771.2 953.9 1767.6 955.3 1762.2 955.3 C1756.7 955.3 1750.9 954.2 1744.9 951.1 C1738.8 948.0 1731.7 941.6 1725.6 936.6 C1719.5 931.6 1711.2 923.8 1708.3 921.2" fill="none" stroke="#000" stroke-width="4.49" stroke-linecap="butt" stroke-linejoin="round"/>
<path d="M1717.9 908.7 L1775.7 949.5" fill="none" stroke="#000" stroke-width="4.49" stroke-linecap="butt" stroke-linejoin="miter"/>
<path d="M1702.5 921.2 L1752.6 955.3" fill="none" stroke="#000" stroke-width="4.49" stroke-linecap="butt" stroke-linejoin="miter"/>
<path d="M1694.8 927.6 L1701.5 931.4" fill="none" stroke="#000" stroke-width="4.97" stroke-linecap="butt" stroke-linejoin="miter"/>
<path d="M1723.7 950.1 L1741.0 965.5 L1752.6 993.4" fill="none" stroke="#000" stroke-width="4.49" stroke-linecap="butt" stroke-linejoin="miter"/>
<path d="M1748.7 979.9 L1767.0 974.2 L1764.1 960.7" fill="none" stroke="#000" stroke-width="4.01" stroke-linecap="butt" stroke-linejoin="miter"/>
<path d="M1762.2 956.8 L1787.2 1005.0" fill="none" stroke="#000" stroke-width="4.49" stroke-linecap="butt" stroke-linejoin="miter"/>
<path d="M1675.5 945.3 L1789.1 1021.3" fill="none" stroke="#000" stroke-width="4.49" stroke-linecap="butt" stroke-linejoin="miter"/>
<path d="M1666.3 954.0 L1760.3 1021.3" fill="none" stroke="#000" stroke-width="4.49" stroke-linecap="butt" stroke-linejoin="miter"/>
<path d="M1690.9 933.7 L1781.4 1006.9" fill="none" stroke="#000" stroke-width="4.49" stroke-linecap="butt" stroke-linejoin="miter"/>
<path d="M1694.8 962.6 L1768.0 1012.7" fill="none" stroke="#000" stroke-width="4.01" stroke-linecap="butt" stroke-linejoin="miter"/>
<path d="M1683.2 961.7 L1691.9 960.7 L1690.0 966.5" fill="none" stroke="#000" stroke-width="4.01" stroke-linecap="butt" stroke-linejoin="miter"/>
<path d="M1856.0 845.5 L1872.3 835.9 L1889.3 846.5 L1872.3 858.1 Z" fill="#000"/>
<path d="M1864.2 846.1 L1872.7 841.1 L1881.0 846.9 L1872.3 852.3 Z" fill="#fff"/>
<path d="M1942.2 879.2 L1958.6 869.6 L1975.5 880.2 L1958.6 891.8 Z" fill="#000"/>
<path d="M1950.5 879.8 L1959.0 874.8 L1967.3 880.6 L1958.6 886.0 Z" fill="#fff"/>
<path d="M1903.3 900.4 L1919.7 890.8 L1936.6 901.4 L1919.7 912.9 Z" fill="#000"/>
<path d="M1911.6 901.0 L1920.1 896.0 L1928.4 901.8 L1919.7 907.2 Z" fill="#fff"/>
<path d="M1877.7 873.1 C1877.9 871.3 1876.8 865.7 1878.7 862.5 C1880.6 859.3 1884.9 855.8 1889.3 853.8 C1893.6 851.9 1900.3 851.4 1904.7 850.9 C1909.0 850.5 1913.5 851.3 1915.3 851.3" fill="none" stroke="#000" stroke-width="4.97" stroke-linecap="butt" stroke-linejoin="round"/>
<path d="M1915.3 851.3 L1933.6 841.7 L1949.9 851.9 L1932.6 860.6" fill="none" stroke="#000" stroke-width="4.97" stroke-linecap="butt" stroke-linejoin="miter"/>
<path d="M1896.0 854.8 L1921.0 878.3 L1896.0 881.7 L1875.8 889.8 L1868.1 887.5 L1894.1 878.9 L1916.2 877.9 L1894.1 857.1 Z" fill="#000"/>
<path d="M1932.6 860.6 C1933.1 861.8 1936.0 865.6 1935.5 868.3 C1935.0 870.9 1932.6 874.0 1929.7 876.4 C1926.8 878.7 1923.6 881.3 1918.2 882.1 C1912.7 883.0 1900.5 881.5 1897.0 881.4" fill="none" stroke="#000" stroke-width="4.97" stroke-linecap="butt" stroke-linejoin="round"/>
<path d="M1911.4 859.0 L1937.4 848.0" fill="none" stroke="#000" stroke-width="4.01" stroke-linecap="butt" stroke-linejoin="miter"/>
<path d="M1918.2 866.3 L1932.6 860.9" fill="none" stroke="#000" stroke-width="4.01" stroke-linecap="butt" stroke-linejoin="miter"/>
<path d="M1923.0 872.1 L1930.7 869.2" fill="none" stroke="#000" stroke-width="4.01" stroke-linecap="butt" stroke-linejoin="miter"/>
<path d="M1877.7 874.0 L1858.1 884.6 L1875.8 894.3 L1912.4 911.6" fill="none" stroke="#000" stroke-width="4.97" stroke-linecap="butt" stroke-linejoin="miter"/>
<path d="M1885.4 894.3 L1906.6 901.0" fill="none" stroke="#000" stroke-width="4.01" stroke-linecap="butt" stroke-linejoin="miter"/>
<path d="M1814.6 883.7 L1910.4 941.4" fill="none" stroke="#000" stroke-width="4.49" stroke-linecap="butt" stroke-linejoin="miter"/>
<path d="M1841.5 883.3 L1916.2 921.2" fill="none" stroke="#000" stroke-width="4.49" stroke-linecap="butt" stroke-linejoin="miter"/>
<path d="M1819.9 891.4 L1860.4 914.5" fill="none" stroke="#000" stroke-width="4.49" stroke-linecap="butt" stroke-linejoin="miter"/>
<path d="M1835.4 960.7 C1839.5 957.5 1851.7 947.5 1860.4 941.4 C1869.1 935.4 1882.1 926.7 1887.3 924.5 C1892.5 922.2 1890.9 927.4 1891.6 928.0" fill="none" stroke="#000" stroke-width="4.49" stroke-linecap="butt" stroke-linejoin="round"/>
<path d="M1840.2 958.8 C1844.2 956.2 1858.0 947.1 1864.2 943.4 C1870.5 939.7 1875.5 937.7 1877.7 936.6" fill="none" stroke="#000" stroke-width="4.01" stroke-linecap="butt" stroke-linejoin="round"/>
<path d="M1860.4 964.5 C1860.7 962.3 1860.4 954.9 1862.3 951.1 C1864.2 947.2 1868.1 944.0 1871.9 941.4 C1875.8 938.9 1883.2 936.6 1885.4 935.7" fill="none" stroke="#000" stroke-width="4.49" stroke-linecap="butt" stroke-linejoin="round"/>
<path d="M1883.5 955.9 C1883.2 954.6 1881.3 950.3 1882.0 948.2 C1882.6 946.1 1882.3 946.4 1887.3 943.4 C1892.4 940.3 1908.2 932.1 1912.4 929.9" fill="none" stroke="#000" stroke-width="4.97" stroke-linecap="butt" stroke-linejoin="round"/>
<path d="M1837.3 962.6 C1838.6 963.3 1841.8 966.0 1845.0 966.5 C1848.2 967.0 1854.6 965.7 1856.5 965.5" fill="none" stroke="#000" stroke-width="4.49" stroke-linecap="butt" stroke-linejoin="round"/>
<path d="M1835.0 966.5 C1834.7 968.4 1832.7 974.2 1833.4 978.0 C1834.1 981.9 1835.7 985.1 1839.2 989.6 C1842.7 994.1 1849.8 999.8 1854.6 1005.0 C1859.4 1010.1 1865.8 1017.8 1868.1 1020.4" fill="none" stroke="#000" stroke-width="4.49" stroke-linecap="butt" stroke-linejoin="round"/>
<path d="M1857.5 966.5 C1857.7 968.1 1857.0 972.6 1858.5 976.1 C1859.9 979.6 1864.9 985.7 1866.2 987.7" fill="none" stroke="#000" stroke-width="4.49" stroke-linecap="butt" stroke-linejoin="round"/>
<path d="M1887.3 958.8 C1884.8 960.1 1875.5 963.6 1871.9 966.5 C1868.4 969.4 1866.8 972.6 1866.2 976.1 C1865.5 979.6 1866.2 984.1 1868.1 987.7 C1870.0 991.2 1876.1 995.7 1877.7 997.3" fill="none" stroke="#000" stroke-width="4.49" stroke-linecap="butt" stroke-linejoin="round"/>
<path d="M1862.3 960.7 L1868.1 968.4" fill="none" stroke="#000" stroke-width="4.01" stroke-linecap="butt" stroke-linejoin="miter"/>
<path d="M1864.2 989.6 L1895.0 1020.4" fill="none" stroke="#000" stroke-width="4.49" stroke-linecap="butt" stroke-linejoin="miter"/>
<path d="M1879.6 970.3 L1891.2 964.5 L1904.7 978.0 L1922.0 993.4" fill="none" stroke="#000" stroke-width="4.49" stroke-linecap="butt" stroke-linejoin="miter"/>
<path d="M1875.8 976.1 L1906.6 1005.0 L1922.0 997.3" fill="none" stroke="#000" stroke-width="4.49" stroke-linecap="butt" stroke-linejoin="miter"/>
<path d="M1922.0 997.3 C1918.8 998.2 1907.6 1001.1 1902.7 1003.1 C1897.9 1005.0 1894.2 1005.9 1893.1 1008.8 C1892.0 1011.7 1895.5 1018.5 1896.0 1020.4" fill="none" stroke="#000" stroke-width="4.49" stroke-linecap="butt" stroke-linejoin="round"/>
<path d="M1777.6 1008.8 L1833.4 960.7" fill="none" stroke="#000" stroke-width="4.49" stroke-linecap="butt" stroke-linejoin="miter"/>
<path d="M1800.7 1012.7 L1835.4 979.9" fill="none" stroke="#000" stroke-width="4.49" stroke-linecap="butt" stroke-linejoin="miter"/>
<path d="M1823.8 967.4 L1835.4 958.8" fill="none" stroke="#000" stroke-width="4.49" stroke-linecap="butt" stroke-linejoin="miter"/>
<path d="M2123.4 813.2 C2114.4 816.9 2090.6 824.5 2069.4 835.2 C2048.3 845.8 2022.0 862.9 1996.3 877.2 C1970.6 891.4 1939.8 907.3 1915.4 920.5 C1891.0 933.6 1860.8 950.2 1849.9 956.1" fill="none" stroke="#000" stroke-width="4.97" stroke-linecap="butt" stroke-linejoin="round"/>
<path d="M2124.3 812.6 L2073.3 833.2" fill="none" stroke="#000" stroke-width="7.38" stroke-linecap="butt" stroke-linejoin="miter"/>
<path d="M2140.7 820.9 C2129.5 825.5 2092.9 840.4 2073.3 848.7 C2053.7 856.9 2039.9 861.8 2023.2 870.4 C2006.5 879.0 1982.8 894.2 1973.2 900.3 C1963.5 906.4 1977.7 900.4 1965.5 907.0 C1953.3 913.6 1917.3 931.2 1900.0 939.7 C1882.7 948.2 1867.9 955.0 1861.5 958.0" fill="none" stroke="#000" stroke-width="4.49" stroke-linecap="butt" stroke-linejoin="round"/>
<path d="M2054.0 841.5 L2000.1 875.6" fill="none" stroke="#000" stroke-width="3.53" stroke-linecap="butt" stroke-linejoin="miter"/>
<path d="M2065.6 834.8 L2073.3 837.7 L2061.7 842.5" fill="none" stroke="#000" stroke-width="3.53" stroke-linecap="butt" stroke-linejoin="miter"/>
<path d="M2112.8 805.5 L2137.8 797.8 L2132.0 810.1 L2139.7 817.8 L2133.4 821.7 L2123.4 814.0 Z" fill="#000"/>
<path d="M2132.0 809.8 L2138.8 798.6 L2162.8 789.0 L2182.1 801.1 L2144.5 817.8 Z" fill="none" stroke="#000" stroke-width="4.49" stroke-linecap="butt" stroke-linejoin="miter"/>
<path d="M2162.8 789.0 L2185.0 799.2" fill="none" stroke="#000" stroke-width="4.01" stroke-linecap="butt" stroke-linejoin="miter"/>
<path d="M2144.5 817.8 L2185.0 801.7" fill="none" stroke="#000" stroke-width="4.49" stroke-linecap="butt" stroke-linejoin="miter"/>
<ellipse cx="2014.0" cy="717.9" rx="11.9" ry="6.4" transform="rotate(5.0 2014.0 717.9)" fill="none" stroke="#000" stroke-width="5.93"/>
<ellipse cx="2205.2" cy="737.9" rx="11.9" ry="6.4" transform="rotate(5.0 2205.2 737.9)" fill="#000" stroke="#000" stroke-width="6.41"/>
<path d="M2199.4 735.6 L2208.1 734.7" fill="none" stroke="#fff" stroke-width="1.54" stroke-linecap="butt" stroke-linejoin="miter"/>
</g>
</svg>
</body></html>
